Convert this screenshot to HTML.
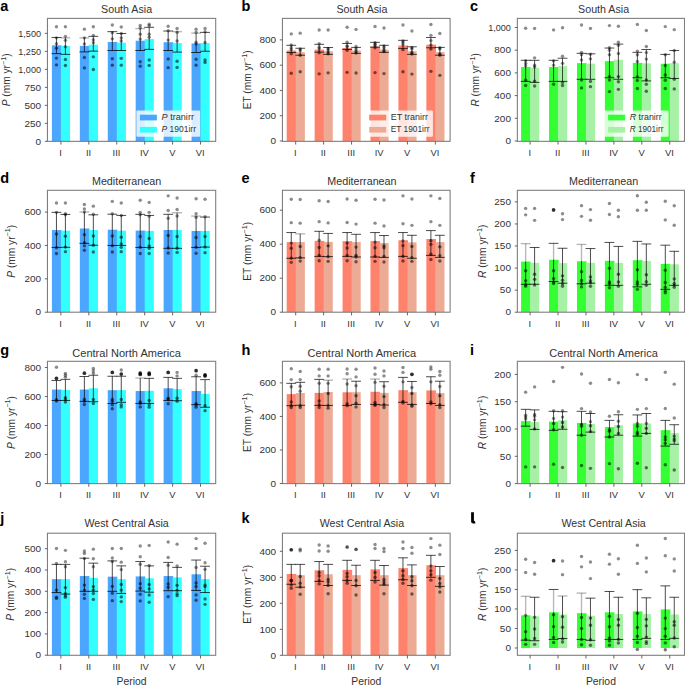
<!DOCTYPE html><html><head><meta charset="utf-8"><style>html,body{margin:0;padding:0;background:#fff;width:685px;height:685px;overflow:hidden}svg{display:block}text{font-family:"Liberation Sans",sans-serif}</style></head><body>
<svg width="685" height="685" viewBox="0 0 685 685">
<rect width="685" height="685" fill="#fff"/>
<rect x="51.9" y="45.3" width="9.6" height="96.05" fill="#4ba6ff"/>
<rect x="60.9" y="46.04" width="9.15" height="95.31" fill="#33ffff"/>
<rect x="79.83" y="45.92" width="9.6" height="95.43" fill="#4ba6ff"/>
<rect x="88.83" y="44.68" width="9.15" height="96.67" fill="#33ffff"/>
<rect x="107.76" y="41.95" width="9.6" height="99.4" fill="#4ba6ff"/>
<rect x="116.76" y="42.69" width="9.15" height="98.66" fill="#33ffff"/>
<rect x="135.69" y="40.71" width="9.6" height="100.64" fill="#4ba6ff"/>
<rect x="144.69" y="39.09" width="9.15" height="102.26" fill="#33ffff"/>
<rect x="163.62" y="42.2" width="9.6" height="99.15" fill="#4ba6ff"/>
<rect x="172.62" y="43.07" width="9.15" height="98.28" fill="#33ffff"/>
<rect x="191.55" y="43.44" width="9.6" height="97.91" fill="#4ba6ff"/>
<rect x="200.55" y="43.07" width="9.15" height="98.28" fill="#33ffff"/>
<path d="M56.45 37.48V53.61" stroke="#000" stroke-opacity="0.7" stroke-width="1" fill="none"/>
<path d="M51.55 37.48H61.35" stroke="#000" stroke-opacity="0.7" stroke-width="1" fill="none"/>
<path d="M51.55 53.61H61.35" stroke="#000" stroke-opacity="0.75" stroke-width="1" fill="none"/>
<circle cx="56.45" cy="26.69" r="1.7" fill="#000" fill-opacity="0.45"/>
<circle cx="56.45" cy="37.85" r="1.7" fill="#000" fill-opacity="0.45"/>
<circle cx="56.45" cy="43.69" r="1.7" fill="#000" fill-opacity="0.45"/>
<circle cx="56.45" cy="48.15" r="1.7" fill="#000" fill-opacity="0.55"/>
<circle cx="56.45" cy="58.08" r="1.7" fill="#000" fill-opacity="0.55"/>
<circle cx="56.45" cy="64.91" r="1.7" fill="#000" fill-opacity="0.55"/>
<path d="M65.4 37.85V54.36" stroke="#000" stroke-opacity="0.7" stroke-width="1" fill="none"/>
<path d="M60.5 37.85H70.3" stroke="#000" stroke-opacity="0.28" stroke-width="1.4" fill="none"/>
<path d="M60.5 54.36H70.3" stroke="#000" stroke-opacity="0.75" stroke-width="1" fill="none"/>
<circle cx="65.4" cy="26.69" r="1.7" fill="#000" fill-opacity="0.45"/>
<circle cx="65.4" cy="36.36" r="1.7" fill="#000" fill-opacity="0.45"/>
<circle cx="65.4" cy="40.34" r="1.7" fill="#000" fill-opacity="0.45"/>
<circle cx="65.4" cy="46.79" r="1.7" fill="#000" fill-opacity="0.45"/>
<circle cx="65.4" cy="59.57" r="1.7" fill="#000" fill-opacity="0.55"/>
<circle cx="65.4" cy="65.53" r="1.7" fill="#000" fill-opacity="0.55"/>
<path d="M84.38 37.85V51.88" stroke="#000" stroke-opacity="0.7" stroke-width="1" fill="none"/>
<path d="M79.48 37.85H89.28" stroke="#000" stroke-opacity="0.28" stroke-width="1.4" fill="none"/>
<path d="M79.48 51.88H89.28" stroke="#000" stroke-opacity="0.75" stroke-width="1" fill="none"/>
<circle cx="84.38" cy="29.17" r="1.7" fill="#000" fill-opacity="0.45"/>
<circle cx="84.38" cy="37.85" r="1.7" fill="#000" fill-opacity="0.45"/>
<circle cx="84.38" cy="44.06" r="1.7" fill="#000" fill-opacity="0.45"/>
<circle cx="84.38" cy="57.46" r="1.7" fill="#000" fill-opacity="0.55"/>
<circle cx="84.38" cy="67.88" r="1.7" fill="#000" fill-opacity="0.55"/>
<path d="M93.33 36.36V51.13" stroke="#000" stroke-opacity="0.7" stroke-width="1" fill="none"/>
<path d="M88.43 36.36H98.23" stroke="#000" stroke-opacity="0.7" stroke-width="1" fill="none"/>
<path d="M88.43 51.13H98.23" stroke="#000" stroke-opacity="0.75" stroke-width="1" fill="none"/>
<circle cx="93.33" cy="26.69" r="1.7" fill="#000" fill-opacity="0.45"/>
<circle cx="93.33" cy="35.37" r="1.7" fill="#000" fill-opacity="0.45"/>
<circle cx="93.33" cy="39.72" r="1.7" fill="#000" fill-opacity="0.45"/>
<circle cx="93.33" cy="42.82" r="1.7" fill="#000" fill-opacity="0.45"/>
<circle cx="93.33" cy="56.84" r="1.7" fill="#000" fill-opacity="0.55"/>
<circle cx="93.33" cy="69.5" r="1.7" fill="#000" fill-opacity="0.55"/>
<path d="M112.31 31.65V50.51" stroke="#000" stroke-opacity="0.7" stroke-width="1" fill="none"/>
<path d="M107.41 31.65H117.21" stroke="#000" stroke-opacity="0.7" stroke-width="1" fill="none"/>
<path d="M107.41 50.51H117.21" stroke="#000" stroke-opacity="0.75" stroke-width="1" fill="none"/>
<circle cx="112.31" cy="25.07" r="1.7" fill="#000" fill-opacity="0.45"/>
<circle cx="112.31" cy="32.64" r="1.7" fill="#000" fill-opacity="0.45"/>
<circle cx="112.31" cy="38.85" r="1.7" fill="#000" fill-opacity="0.45"/>
<circle cx="112.31" cy="58.7" r="1.7" fill="#000" fill-opacity="0.55"/>
<circle cx="112.31" cy="65.15" r="1.7" fill="#000" fill-opacity="0.55"/>
<path d="M121.26 33.51V50.51" stroke="#000" stroke-opacity="0.7" stroke-width="1" fill="none"/>
<path d="M116.36 33.51H126.16" stroke="#000" stroke-opacity="0.7" stroke-width="1" fill="none"/>
<path d="M116.36 50.51H126.16" stroke="#000" stroke-opacity="0.75" stroke-width="1" fill="none"/>
<circle cx="121.26" cy="26.93" r="1.7" fill="#000" fill-opacity="0.45"/>
<circle cx="121.26" cy="33.51" r="1.7" fill="#000" fill-opacity="0.45"/>
<circle cx="121.26" cy="37.85" r="1.7" fill="#000" fill-opacity="0.45"/>
<circle cx="121.26" cy="40.96" r="1.7" fill="#000" fill-opacity="0.45"/>
<circle cx="121.26" cy="58.33" r="1.7" fill="#000" fill-opacity="0.55"/>
<circle cx="121.26" cy="65.15" r="1.7" fill="#000" fill-opacity="0.55"/>
<path d="M140.24 28.55V50.51" stroke="#000" stroke-opacity="0.7" stroke-width="1" fill="none"/>
<path d="M135.34 28.55H145.14" stroke="#000" stroke-opacity="0.28" stroke-width="1.4" fill="none"/>
<path d="M135.34 50.51H145.14" stroke="#000" stroke-opacity="0.75" stroke-width="1" fill="none"/>
<circle cx="140.24" cy="25.45" r="1.7" fill="#000" fill-opacity="0.45"/>
<circle cx="140.24" cy="27.93" r="1.7" fill="#000" fill-opacity="0.45"/>
<circle cx="140.24" cy="34.13" r="1.7" fill="#000" fill-opacity="0.45"/>
<circle cx="140.24" cy="39.09" r="1.7" fill="#000" fill-opacity="0.45"/>
<circle cx="140.24" cy="61.68" r="1.7" fill="#000" fill-opacity="0.55"/>
<circle cx="140.24" cy="66.15" r="1.7" fill="#000" fill-opacity="0.55"/>
<path d="M149.19 27.31V49.39" stroke="#000" stroke-opacity="0.7" stroke-width="1" fill="none"/>
<path d="M144.29 27.31H154.09" stroke="#000" stroke-opacity="0.7" stroke-width="1" fill="none"/>
<path d="M144.29 49.39H154.09" stroke="#000" stroke-opacity="0.75" stroke-width="1" fill="none"/>
<circle cx="149.19" cy="24.2" r="1.7" fill="#000" fill-opacity="0.45"/>
<circle cx="149.19" cy="25.69" r="1.7" fill="#000" fill-opacity="0.45"/>
<circle cx="149.19" cy="34.13" r="1.7" fill="#000" fill-opacity="0.45"/>
<circle cx="149.19" cy="37.23" r="1.7" fill="#000" fill-opacity="0.45"/>
<circle cx="149.19" cy="59.94" r="1.7" fill="#000" fill-opacity="0.55"/>
<circle cx="149.19" cy="65.4" r="1.7" fill="#000" fill-opacity="0.55"/>
<path d="M168.17 31.03V50.51" stroke="#000" stroke-opacity="0.7" stroke-width="1" fill="none"/>
<path d="M163.27 31.03H173.07" stroke="#000" stroke-opacity="0.7" stroke-width="1" fill="none"/>
<path d="M163.27 50.51H173.07" stroke="#000" stroke-opacity="0.75" stroke-width="1" fill="none"/>
<circle cx="168.17" cy="26.31" r="1.7" fill="#000" fill-opacity="0.45"/>
<circle cx="168.17" cy="30.78" r="1.7" fill="#000" fill-opacity="0.45"/>
<circle cx="168.17" cy="40.09" r="1.7" fill="#000" fill-opacity="0.45"/>
<circle cx="168.17" cy="58.95" r="1.7" fill="#000" fill-opacity="0.55"/>
<circle cx="168.17" cy="67.64" r="1.7" fill="#000" fill-opacity="0.55"/>
<path d="M177.12 31.65V52.12" stroke="#000" stroke-opacity="0.7" stroke-width="1" fill="none"/>
<path d="M172.22 31.65H182.02" stroke="#000" stroke-opacity="0.28" stroke-width="1.4" fill="none"/>
<path d="M172.22 52.12H182.02" stroke="#000" stroke-opacity="0.75" stroke-width="1" fill="none"/>
<circle cx="177.12" cy="28.55" r="1.7" fill="#000" fill-opacity="0.45"/>
<circle cx="177.12" cy="32.27" r="1.7" fill="#000" fill-opacity="0.45"/>
<circle cx="177.12" cy="40.96" r="1.7" fill="#000" fill-opacity="0.45"/>
<circle cx="177.12" cy="61.18" r="1.7" fill="#000" fill-opacity="0.55"/>
<circle cx="177.12" cy="67.39" r="1.7" fill="#000" fill-opacity="0.55"/>
<path d="M196.1 33.14V52.5" stroke="#000" stroke-opacity="0.7" stroke-width="1" fill="none"/>
<path d="M191.2 33.14H201" stroke="#000" stroke-opacity="0.28" stroke-width="1.4" fill="none"/>
<path d="M191.2 52.5H201" stroke="#000" stroke-opacity="0.75" stroke-width="1" fill="none"/>
<circle cx="196.1" cy="29.17" r="1.7" fill="#000" fill-opacity="0.45"/>
<circle cx="196.1" cy="32.27" r="1.7" fill="#000" fill-opacity="0.45"/>
<circle cx="196.1" cy="42.2" r="1.7" fill="#000" fill-opacity="0.45"/>
<circle cx="196.1" cy="44.06" r="1.7" fill="#000" fill-opacity="0.45"/>
<circle cx="196.1" cy="59.2" r="1.7" fill="#000" fill-opacity="0.55"/>
<circle cx="196.1" cy="65.15" r="1.7" fill="#000" fill-opacity="0.55"/>
<path d="M205.05 32.39V51.26" stroke="#000" stroke-opacity="0.7" stroke-width="1" fill="none"/>
<path d="M200.15 32.39H209.95" stroke="#000" stroke-opacity="0.7" stroke-width="1" fill="none"/>
<path d="M200.15 51.26H209.95" stroke="#000" stroke-opacity="0.75" stroke-width="1" fill="none"/>
<circle cx="205.05" cy="28.55" r="1.7" fill="#000" fill-opacity="0.45"/>
<circle cx="205.05" cy="31.65" r="1.7" fill="#000" fill-opacity="0.45"/>
<circle cx="205.05" cy="42.45" r="1.7" fill="#000" fill-opacity="0.45"/>
<circle cx="205.05" cy="59.94" r="1.7" fill="#000" fill-opacity="0.55"/>
<circle cx="205.05" cy="62.42" r="1.7" fill="#000" fill-opacity="0.55"/>
<rect x="47.45" y="18.4" width="168.25" height="122.95" fill="none" stroke="#7f7f7f" stroke-width="1.1"/>
<path d="M44.85 141.35H47.45" stroke="#555" stroke-width="0.9"/>
<text x="41.05" y="144.55" font-size="9.0" text-anchor="end" fill="#333" textLength="5.55" lengthAdjust="spacingAndGlyphs">0</text>
<path d="M44.85 123.35H47.45" stroke="#555" stroke-width="0.9"/>
<text x="41.05" y="126.55" font-size="9.0" text-anchor="end" fill="#333" textLength="16.65" lengthAdjust="spacingAndGlyphs">250</text>
<path d="M44.85 105.35H47.45" stroke="#555" stroke-width="0.9"/>
<text x="41.05" y="108.55" font-size="9.0" text-anchor="end" fill="#333" textLength="16.65" lengthAdjust="spacingAndGlyphs">500</text>
<path d="M44.85 87.35H47.45" stroke="#555" stroke-width="0.9"/>
<text x="41.05" y="90.55" font-size="9.0" text-anchor="end" fill="#333" textLength="16.65" lengthAdjust="spacingAndGlyphs">750</text>
<path d="M44.85 69.35H47.45" stroke="#555" stroke-width="0.9"/>
<text x="41.05" y="72.55" font-size="9.0" text-anchor="end" fill="#333" textLength="22.8" lengthAdjust="spacingAndGlyphs">1,000</text>
<path d="M44.85 51.35H47.45" stroke="#555" stroke-width="0.9"/>
<text x="41.05" y="54.55" font-size="9.0" text-anchor="end" fill="#333" textLength="22.8" lengthAdjust="spacingAndGlyphs">1,250</text>
<path d="M44.85 33.35H47.45" stroke="#555" stroke-width="0.9"/>
<text x="41.05" y="36.55" font-size="9.0" text-anchor="end" fill="#333" textLength="22.8" lengthAdjust="spacingAndGlyphs">1,500</text>
<path d="M60.9 141.35V144.55" stroke="#555" stroke-width="0.9"/>
<text x="60.6" y="156.05" font-size="9.4" text-anchor="middle" fill="#333">I</text>
<path d="M88.83 141.35V144.55" stroke="#555" stroke-width="0.9"/>
<text x="88.53" y="156.05" font-size="9.4" text-anchor="middle" fill="#333">II</text>
<path d="M116.76 141.35V144.55" stroke="#555" stroke-width="0.9"/>
<text x="116.46" y="156.05" font-size="9.4" text-anchor="middle" fill="#333">III</text>
<path d="M144.69 141.35V144.55" stroke="#555" stroke-width="0.9"/>
<text x="144.39" y="156.05" font-size="9.4" text-anchor="middle" fill="#333">IV</text>
<path d="M172.62 141.35V144.55" stroke="#555" stroke-width="0.9"/>
<text x="172.32" y="156.05" font-size="9.4" text-anchor="middle" fill="#333">V</text>
<path d="M200.55 141.35V144.55" stroke="#555" stroke-width="0.9"/>
<text x="200.25" y="156.05" font-size="9.4" text-anchor="middle" fill="#333">VI</text>
<text x="126.6" y="12.8" font-size="10.6" text-anchor="middle" fill="#333" textLength="51" lengthAdjust="spacingAndGlyphs">South Asia</text>
<text x="0.2" y="11" font-size="14.5" font-weight="bold" fill="#000">a</text>
<text transform="translate(10.2 79.88) rotate(-90)" x="0" y="0" font-size="10.2" text-anchor="middle" fill="#333"><tspan font-style="italic">P</tspan> (mm yr<tspan font-size="7.2" dy="-4.3">−1</tspan><tspan dy="4.3">)</tspan></text>
<rect x="286.7" y="50.51" width="9.6" height="90.49" fill="#ff826c"/>
<rect x="295.7" y="52.12" width="9.15" height="88.88" fill="#edab95"/>
<rect x="314.63" y="49.64" width="9.6" height="91.36" fill="#ff826c"/>
<rect x="323.63" y="51.13" width="9.15" height="89.87" fill="#edab95"/>
<rect x="342.56" y="48.03" width="9.6" height="92.97" fill="#ff826c"/>
<rect x="351.56" y="50.51" width="9.15" height="90.49" fill="#edab95"/>
<rect x="370.49" y="46.54" width="9.6" height="94.46" fill="#ff826c"/>
<rect x="379.49" y="49.64" width="9.15" height="91.36" fill="#edab95"/>
<rect x="398.42" y="45.55" width="9.6" height="95.45" fill="#ff826c"/>
<rect x="407.42" y="51.26" width="9.15" height="89.74" fill="#edab95"/>
<rect x="426.35" y="44.68" width="9.6" height="96.32" fill="#ff826c"/>
<rect x="435.35" y="52.12" width="9.15" height="88.88" fill="#edab95"/>
<path d="M291.25 45.3V52.5" stroke="#000" stroke-opacity="0.7" stroke-width="1" fill="none"/>
<path d="M286.35 45.3H296.15" stroke="#000" stroke-opacity="0.7" stroke-width="1" fill="none"/>
<path d="M286.35 52.5H296.15" stroke="#000" stroke-opacity="0.75" stroke-width="1" fill="none"/>
<circle cx="291.25" cy="33.88" r="1.7" fill="#000" fill-opacity="0.45"/>
<circle cx="291.25" cy="45.05" r="1.7" fill="#000" fill-opacity="0.45"/>
<circle cx="291.25" cy="47.78" r="1.7" fill="#000" fill-opacity="0.45"/>
<circle cx="291.25" cy="49.64" r="1.7" fill="#000" fill-opacity="0.45"/>
<circle cx="291.25" cy="53.74" r="1.7" fill="#000" fill-opacity="0.55"/>
<circle cx="291.25" cy="73.22" r="1.7" fill="#000" fill-opacity="0.55"/>
<path d="M300.2 48.28V55.23" stroke="#000" stroke-opacity="0.7" stroke-width="1" fill="none"/>
<path d="M295.3 48.28H305.1" stroke="#000" stroke-opacity="0.7" stroke-width="1" fill="none"/>
<path d="M295.3 55.23H305.1" stroke="#000" stroke-opacity="0.75" stroke-width="1" fill="none"/>
<circle cx="300.2" cy="33.14" r="1.7" fill="#000" fill-opacity="0.45"/>
<circle cx="300.2" cy="49.02" r="1.7" fill="#000" fill-opacity="0.45"/>
<circle cx="300.2" cy="50.51" r="1.7" fill="#000" fill-opacity="0.45"/>
<circle cx="300.2" cy="55.23" r="1.7" fill="#000" fill-opacity="0.55"/>
<circle cx="300.2" cy="71.73" r="1.7" fill="#000" fill-opacity="0.55"/>
<path d="M319.18 44.31V52.12" stroke="#000" stroke-opacity="0.7" stroke-width="1" fill="none"/>
<path d="M314.28 44.31H324.08" stroke="#000" stroke-opacity="0.7" stroke-width="1" fill="none"/>
<path d="M314.28 52.12H324.08" stroke="#000" stroke-opacity="0.75" stroke-width="1" fill="none"/>
<circle cx="319.18" cy="30.04" r="1.7" fill="#000" fill-opacity="0.45"/>
<circle cx="319.18" cy="43.81" r="1.7" fill="#000" fill-opacity="0.45"/>
<circle cx="319.18" cy="47.16" r="1.7" fill="#000" fill-opacity="0.45"/>
<circle cx="319.18" cy="49.02" r="1.7" fill="#000" fill-opacity="0.45"/>
<circle cx="319.18" cy="52.74" r="1.7" fill="#000" fill-opacity="0.55"/>
<circle cx="319.18" cy="73.84" r="1.7" fill="#000" fill-opacity="0.55"/>
<path d="M328.13 47.53V54.36" stroke="#000" stroke-opacity="0.7" stroke-width="1" fill="none"/>
<path d="M323.23 47.53H333.03" stroke="#000" stroke-opacity="0.7" stroke-width="1" fill="none"/>
<path d="M323.23 54.36H333.03" stroke="#000" stroke-opacity="0.75" stroke-width="1" fill="none"/>
<circle cx="328.13" cy="30.04" r="1.7" fill="#000" fill-opacity="0.45"/>
<circle cx="328.13" cy="48.4" r="1.7" fill="#000" fill-opacity="0.45"/>
<circle cx="328.13" cy="50.01" r="1.7" fill="#000" fill-opacity="0.45"/>
<circle cx="328.13" cy="52.12" r="1.7" fill="#000" fill-opacity="0.45"/>
<circle cx="328.13" cy="53.74" r="1.7" fill="#000" fill-opacity="0.55"/>
<circle cx="328.13" cy="72.85" r="1.7" fill="#000" fill-opacity="0.55"/>
<path d="M347.11 43.44V49.39" stroke="#000" stroke-opacity="0.7" stroke-width="1" fill="none"/>
<path d="M342.21 43.44H352.01" stroke="#000" stroke-opacity="0.7" stroke-width="1" fill="none"/>
<path d="M342.21 49.39H352.01" stroke="#000" stroke-opacity="0.75" stroke-width="1" fill="none"/>
<circle cx="347.11" cy="27.31" r="1.7" fill="#000" fill-opacity="0.45"/>
<circle cx="347.11" cy="42.2" r="1.7" fill="#000" fill-opacity="0.45"/>
<circle cx="347.11" cy="45.92" r="1.7" fill="#000" fill-opacity="0.45"/>
<circle cx="347.11" cy="46.79" r="1.7" fill="#000" fill-opacity="0.45"/>
<circle cx="347.11" cy="50.26" r="1.7" fill="#000" fill-opacity="0.55"/>
<circle cx="347.11" cy="72.35" r="1.7" fill="#000" fill-opacity="0.55"/>
<path d="M356.06 47.41V53.36" stroke="#000" stroke-opacity="0.7" stroke-width="1" fill="none"/>
<path d="M351.16 47.41H360.96" stroke="#000" stroke-opacity="0.7" stroke-width="1" fill="none"/>
<path d="M351.16 53.36H360.96" stroke="#000" stroke-opacity="0.75" stroke-width="1" fill="none"/>
<circle cx="356.06" cy="29.42" r="1.7" fill="#000" fill-opacity="0.45"/>
<circle cx="356.06" cy="46.54" r="1.7" fill="#000" fill-opacity="0.45"/>
<circle cx="356.06" cy="49.02" r="1.7" fill="#000" fill-opacity="0.45"/>
<circle cx="356.06" cy="51.26" r="1.7" fill="#000" fill-opacity="0.45"/>
<circle cx="356.06" cy="52.99" r="1.7" fill="#000" fill-opacity="0.55"/>
<circle cx="356.06" cy="72.97" r="1.7" fill="#000" fill-opacity="0.55"/>
<path d="M375.04 42.32V47.16" stroke="#000" stroke-opacity="0.7" stroke-width="1" fill="none"/>
<path d="M370.14 42.32H379.94" stroke="#000" stroke-opacity="0.7" stroke-width="1" fill="none"/>
<path d="M370.14 47.16H379.94" stroke="#000" stroke-opacity="0.75" stroke-width="1" fill="none"/>
<circle cx="375.04" cy="26.44" r="1.7" fill="#000" fill-opacity="0.45"/>
<circle cx="375.04" cy="42.82" r="1.7" fill="#000" fill-opacity="0.45"/>
<circle cx="375.04" cy="44.31" r="1.7" fill="#000" fill-opacity="0.45"/>
<circle cx="375.04" cy="45.55" r="1.7" fill="#000" fill-opacity="0.45"/>
<circle cx="375.04" cy="47.78" r="1.7" fill="#000" fill-opacity="0.55"/>
<circle cx="375.04" cy="72.6" r="1.7" fill="#000" fill-opacity="0.55"/>
<path d="M383.99 45.3V52.37" stroke="#000" stroke-opacity="0.7" stroke-width="1" fill="none"/>
<path d="M379.09 45.3H388.89" stroke="#000" stroke-opacity="0.7" stroke-width="1" fill="none"/>
<path d="M379.09 52.37H388.89" stroke="#000" stroke-opacity="0.75" stroke-width="1" fill="none"/>
<circle cx="383.99" cy="27.93" r="1.7" fill="#000" fill-opacity="0.45"/>
<circle cx="383.99" cy="45.92" r="1.7" fill="#000" fill-opacity="0.45"/>
<circle cx="383.99" cy="47.78" r="1.7" fill="#000" fill-opacity="0.45"/>
<circle cx="383.99" cy="50.01" r="1.7" fill="#000" fill-opacity="0.45"/>
<circle cx="383.99" cy="51.5" r="1.7" fill="#000" fill-opacity="0.55"/>
<circle cx="383.99" cy="73.59" r="1.7" fill="#000" fill-opacity="0.55"/>
<path d="M402.97 40.34V48.4" stroke="#000" stroke-opacity="0.7" stroke-width="1" fill="none"/>
<path d="M398.07 40.34H407.87" stroke="#000" stroke-opacity="0.7" stroke-width="1" fill="none"/>
<path d="M398.07 48.4H407.87" stroke="#000" stroke-opacity="0.75" stroke-width="1" fill="none"/>
<circle cx="402.97" cy="25.07" r="1.7" fill="#000" fill-opacity="0.45"/>
<circle cx="402.97" cy="40.96" r="1.7" fill="#000" fill-opacity="0.45"/>
<circle cx="402.97" cy="42.82" r="1.7" fill="#000" fill-opacity="0.45"/>
<circle cx="402.97" cy="45.05" r="1.7" fill="#000" fill-opacity="0.45"/>
<circle cx="402.97" cy="49.64" r="1.7" fill="#000" fill-opacity="0.55"/>
<circle cx="402.97" cy="71.73" r="1.7" fill="#000" fill-opacity="0.55"/>
<path d="M411.92 46.79V54.36" stroke="#000" stroke-opacity="0.7" stroke-width="1" fill="none"/>
<path d="M407.02 46.79H416.82" stroke="#000" stroke-opacity="0.7" stroke-width="1" fill="none"/>
<path d="M407.02 54.36H416.82" stroke="#000" stroke-opacity="0.75" stroke-width="1" fill="none"/>
<circle cx="411.92" cy="31.03" r="1.7" fill="#000" fill-opacity="0.45"/>
<circle cx="411.92" cy="47.53" r="1.7" fill="#000" fill-opacity="0.45"/>
<circle cx="411.92" cy="49.02" r="1.7" fill="#000" fill-opacity="0.45"/>
<circle cx="411.92" cy="52.5" r="1.7" fill="#000" fill-opacity="0.55"/>
<circle cx="411.92" cy="53.99" r="1.7" fill="#000" fill-opacity="0.55"/>
<circle cx="411.92" cy="74.09" r="1.7" fill="#000" fill-opacity="0.55"/>
<path d="M430.9 37.48V47.78" stroke="#000" stroke-opacity="0.7" stroke-width="1" fill="none"/>
<path d="M426 37.48H435.8" stroke="#000" stroke-opacity="0.7" stroke-width="1" fill="none"/>
<path d="M426 47.78H435.8" stroke="#000" stroke-opacity="0.75" stroke-width="1" fill="none"/>
<circle cx="430.9" cy="24.45" r="1.7" fill="#000" fill-opacity="0.45"/>
<circle cx="430.9" cy="35.37" r="1.7" fill="#000" fill-opacity="0.45"/>
<circle cx="430.9" cy="40.58" r="1.7" fill="#000" fill-opacity="0.45"/>
<circle cx="430.9" cy="45.05" r="1.7" fill="#000" fill-opacity="0.45"/>
<circle cx="430.9" cy="49.02" r="1.7" fill="#000" fill-opacity="0.55"/>
<circle cx="430.9" cy="71.36" r="1.7" fill="#000" fill-opacity="0.55"/>
<path d="M439.85 47.41V55.23" stroke="#000" stroke-opacity="0.7" stroke-width="1" fill="none"/>
<path d="M434.95 47.41H444.75" stroke="#000" stroke-opacity="0.7" stroke-width="1" fill="none"/>
<path d="M434.95 55.23H444.75" stroke="#000" stroke-opacity="0.75" stroke-width="1" fill="none"/>
<circle cx="439.85" cy="33.51" r="1.7" fill="#000" fill-opacity="0.45"/>
<circle cx="439.85" cy="47.78" r="1.7" fill="#000" fill-opacity="0.45"/>
<circle cx="439.85" cy="49.02" r="1.7" fill="#000" fill-opacity="0.45"/>
<circle cx="439.85" cy="53.99" r="1.7" fill="#000" fill-opacity="0.55"/>
<circle cx="439.85" cy="55.23" r="1.7" fill="#000" fill-opacity="0.55"/>
<circle cx="439.85" cy="75.33" r="1.7" fill="#000" fill-opacity="0.55"/>
<rect x="282.45" y="18.4" width="167.65" height="122.95" fill="none" stroke="#7f7f7f" stroke-width="1.1"/>
<path d="M279.85 141H282.45" stroke="#555" stroke-width="0.9"/>
<text x="276.05" y="144.2" font-size="9.0" text-anchor="end" fill="#333" textLength="5.55" lengthAdjust="spacingAndGlyphs">0</text>
<path d="M279.85 115.72H282.45" stroke="#555" stroke-width="0.9"/>
<text x="276.05" y="118.92" font-size="9.0" text-anchor="end" fill="#333" textLength="16.65" lengthAdjust="spacingAndGlyphs">200</text>
<path d="M279.85 90.44H282.45" stroke="#555" stroke-width="0.9"/>
<text x="276.05" y="93.64" font-size="9.0" text-anchor="end" fill="#333" textLength="16.65" lengthAdjust="spacingAndGlyphs">400</text>
<path d="M279.85 65.16H282.45" stroke="#555" stroke-width="0.9"/>
<text x="276.05" y="68.36" font-size="9.0" text-anchor="end" fill="#333" textLength="16.65" lengthAdjust="spacingAndGlyphs">600</text>
<path d="M279.85 39.88H282.45" stroke="#555" stroke-width="0.9"/>
<text x="276.05" y="43.08" font-size="9.0" text-anchor="end" fill="#333" textLength="16.65" lengthAdjust="spacingAndGlyphs">800</text>
<path d="M295.7 141.35V144.55" stroke="#555" stroke-width="0.9"/>
<text x="295.4" y="156.05" font-size="9.4" text-anchor="middle" fill="#333">I</text>
<path d="M323.63 141.35V144.55" stroke="#555" stroke-width="0.9"/>
<text x="323.33" y="156.05" font-size="9.4" text-anchor="middle" fill="#333">II</text>
<path d="M351.56 141.35V144.55" stroke="#555" stroke-width="0.9"/>
<text x="351.26" y="156.05" font-size="9.4" text-anchor="middle" fill="#333">III</text>
<path d="M379.49 141.35V144.55" stroke="#555" stroke-width="0.9"/>
<text x="379.19" y="156.05" font-size="9.4" text-anchor="middle" fill="#333">IV</text>
<path d="M407.42 141.35V144.55" stroke="#555" stroke-width="0.9"/>
<text x="407.12" y="156.05" font-size="9.4" text-anchor="middle" fill="#333">V</text>
<path d="M435.35 141.35V144.55" stroke="#555" stroke-width="0.9"/>
<text x="435.05" y="156.05" font-size="9.4" text-anchor="middle" fill="#333">VI</text>
<text x="361.9" y="12.8" font-size="10.6" text-anchor="middle" fill="#333" textLength="51" lengthAdjust="spacingAndGlyphs">South Asia</text>
<text x="241.4" y="11" font-size="14.5" font-weight="bold" fill="#000">b</text>
<text transform="translate(250.8 79.88) rotate(-90)" x="0" y="0" font-size="10.2" text-anchor="middle" fill="#333">ET (mm yr<tspan font-size="7.2" dy="-4.3">−1</tspan><tspan dy="4.3">)</tspan></text>
<rect x="521.1" y="67.05" width="9.6" height="73.95" fill="#33ff33"/>
<rect x="530.1" y="67.66" width="9.15" height="73.34" fill="#a6f1a6"/>
<rect x="549.03" y="67.05" width="9.6" height="73.95" fill="#33ff33"/>
<rect x="558.03" y="66.19" width="9.15" height="74.81" fill="#a6f1a6"/>
<rect x="576.96" y="63.13" width="9.6" height="77.87" fill="#33ff33"/>
<rect x="585.96" y="63.62" width="9.15" height="77.38" fill="#a6f1a6"/>
<rect x="604.89" y="61.16" width="9.6" height="79.84" fill="#33ff33"/>
<rect x="613.89" y="59.69" width="9.15" height="81.31" fill="#a6f1a6"/>
<rect x="632.82" y="62.88" width="9.6" height="78.12" fill="#33ff33"/>
<rect x="641.82" y="63.37" width="9.15" height="77.63" fill="#a6f1a6"/>
<rect x="660.75" y="63.74" width="9.6" height="77.26" fill="#33ff33"/>
<rect x="669.75" y="63.13" width="9.15" height="77.87" fill="#a6f1a6"/>
<path d="M525.65 60.31V81.4" stroke="#000" stroke-opacity="0.7" stroke-width="1" fill="none"/>
<path d="M520.75 60.31H530.55" stroke="#000" stroke-opacity="0.7" stroke-width="1" fill="none"/>
<path d="M520.75 81.4H530.55" stroke="#000" stroke-opacity="0.75" stroke-width="1" fill="none"/>
<circle cx="525.65" cy="28.18" r="1.7" fill="#000" fill-opacity="0.45"/>
<circle cx="525.65" cy="60.67" r="1.7" fill="#000" fill-opacity="0.45"/>
<circle cx="525.65" cy="63.37" r="1.7" fill="#000" fill-opacity="0.45"/>
<circle cx="525.65" cy="65.82" r="1.7" fill="#000" fill-opacity="0.45"/>
<circle cx="525.65" cy="80.29" r="1.7" fill="#000" fill-opacity="0.55"/>
<circle cx="525.65" cy="85.45" r="1.7" fill="#000" fill-opacity="0.55"/>
<path d="M534.6 60.31V82.38" stroke="#000" stroke-opacity="0.7" stroke-width="1" fill="none"/>
<path d="M529.7 60.31H539.5" stroke="#000" stroke-opacity="0.7" stroke-width="1" fill="none"/>
<path d="M529.7 82.38H539.5" stroke="#000" stroke-opacity="0.75" stroke-width="1" fill="none"/>
<circle cx="534.6" cy="28.42" r="1.7" fill="#000" fill-opacity="0.45"/>
<circle cx="534.6" cy="57.85" r="1.7" fill="#000" fill-opacity="0.45"/>
<circle cx="534.6" cy="65.21" r="1.7" fill="#000" fill-opacity="0.45"/>
<circle cx="534.6" cy="67.05" r="1.7" fill="#000" fill-opacity="0.45"/>
<circle cx="534.6" cy="81.15" r="1.7" fill="#000" fill-opacity="0.55"/>
<circle cx="534.6" cy="86.06" r="1.7" fill="#000" fill-opacity="0.55"/>
<path d="M553.58 60.31V81.4" stroke="#000" stroke-opacity="0.7" stroke-width="1" fill="none"/>
<path d="M548.68 60.31H558.48" stroke="#000" stroke-opacity="0.7" stroke-width="1" fill="none"/>
<path d="M548.68 81.4H558.48" stroke="#000" stroke-opacity="0.75" stroke-width="1" fill="none"/>
<circle cx="553.58" cy="29.89" r="1.7" fill="#000" fill-opacity="0.45"/>
<circle cx="553.58" cy="60.92" r="1.7" fill="#000" fill-opacity="0.45"/>
<circle cx="553.58" cy="65.21" r="1.7" fill="#000" fill-opacity="0.45"/>
<circle cx="553.58" cy="84.22" r="1.7" fill="#000" fill-opacity="0.55"/>
<path d="M562.53 58.22V81.4" stroke="#000" stroke-opacity="0.7" stroke-width="1" fill="none"/>
<path d="M557.63 58.22H567.43" stroke="#000" stroke-opacity="0.7" stroke-width="1" fill="none"/>
<path d="M557.63 81.4H567.43" stroke="#000" stroke-opacity="0.75" stroke-width="1" fill="none"/>
<circle cx="562.53" cy="27.81" r="1.7" fill="#000" fill-opacity="0.45"/>
<circle cx="562.53" cy="56.26" r="1.7" fill="#000" fill-opacity="0.45"/>
<circle cx="562.53" cy="63.37" r="1.7" fill="#000" fill-opacity="0.45"/>
<circle cx="562.53" cy="82.38" r="1.7" fill="#000" fill-opacity="0.55"/>
<circle cx="562.53" cy="85.45" r="1.7" fill="#000" fill-opacity="0.55"/>
<path d="M581.51 53.32V79.31" stroke="#000" stroke-opacity="0.7" stroke-width="1" fill="none"/>
<path d="M576.61 53.32H586.41" stroke="#000" stroke-opacity="0.7" stroke-width="1" fill="none"/>
<path d="M576.61 79.31H586.41" stroke="#000" stroke-opacity="0.75" stroke-width="1" fill="none"/>
<circle cx="581.51" cy="24.99" r="1.7" fill="#000" fill-opacity="0.45"/>
<circle cx="581.51" cy="52.34" r="1.7" fill="#000" fill-opacity="0.45"/>
<circle cx="581.51" cy="54.79" r="1.7" fill="#000" fill-opacity="0.45"/>
<circle cx="581.51" cy="60.06" r="1.7" fill="#000" fill-opacity="0.45"/>
<circle cx="581.51" cy="79.93" r="1.7" fill="#000" fill-opacity="0.55"/>
<circle cx="581.51" cy="87.9" r="1.7" fill="#000" fill-opacity="0.55"/>
<path d="M590.46 53.81V79.31" stroke="#000" stroke-opacity="0.7" stroke-width="1" fill="none"/>
<path d="M585.56 53.81H595.36" stroke="#000" stroke-opacity="0.7" stroke-width="1" fill="none"/>
<path d="M585.56 79.31H595.36" stroke="#000" stroke-opacity="0.75" stroke-width="1" fill="none"/>
<circle cx="590.46" cy="28.42" r="1.7" fill="#000" fill-opacity="0.45"/>
<circle cx="590.46" cy="54.18" r="1.7" fill="#000" fill-opacity="0.45"/>
<circle cx="590.46" cy="58.84" r="1.7" fill="#000" fill-opacity="0.45"/>
<circle cx="590.46" cy="81.4" r="1.7" fill="#000" fill-opacity="0.55"/>
<circle cx="590.46" cy="86.67" r="1.7" fill="#000" fill-opacity="0.55"/>
<path d="M609.44 48.04V77.72" stroke="#000" stroke-opacity="0.7" stroke-width="1" fill="none"/>
<path d="M604.54 48.04H614.34" stroke="#000" stroke-opacity="0.7" stroke-width="1" fill="none"/>
<path d="M604.54 77.72H614.34" stroke="#000" stroke-opacity="0.75" stroke-width="1" fill="none"/>
<circle cx="609.44" cy="25.6" r="1.7" fill="#000" fill-opacity="0.45"/>
<circle cx="609.44" cy="47.8" r="1.7" fill="#000" fill-opacity="0.45"/>
<circle cx="609.44" cy="50.13" r="1.7" fill="#000" fill-opacity="0.45"/>
<circle cx="609.44" cy="54.79" r="1.7" fill="#000" fill-opacity="0.45"/>
<circle cx="609.44" cy="76.62" r="1.7" fill="#000" fill-opacity="0.55"/>
<circle cx="609.44" cy="79.93" r="1.7" fill="#000" fill-opacity="0.55"/>
<circle cx="609.44" cy="91.58" r="1.7" fill="#000" fill-opacity="0.55"/>
<path d="M618.39 44.12V79.31" stroke="#000" stroke-opacity="0.7" stroke-width="1" fill="none"/>
<path d="M613.49 44.12H623.29" stroke="#000" stroke-opacity="0.7" stroke-width="1" fill="none"/>
<path d="M613.49 79.31H623.29" stroke="#000" stroke-opacity="0.75" stroke-width="1" fill="none"/>
<circle cx="618.39" cy="26.22" r="1.7" fill="#000" fill-opacity="0.45"/>
<circle cx="618.39" cy="42.28" r="1.7" fill="#000" fill-opacity="0.45"/>
<circle cx="618.39" cy="45.22" r="1.7" fill="#000" fill-opacity="0.45"/>
<circle cx="618.39" cy="53.56" r="1.7" fill="#000" fill-opacity="0.45"/>
<circle cx="618.39" cy="76.62" r="1.7" fill="#000" fill-opacity="0.55"/>
<circle cx="618.39" cy="81.77" r="1.7" fill="#000" fill-opacity="0.55"/>
<circle cx="618.39" cy="89.37" r="1.7" fill="#000" fill-opacity="0.55"/>
<path d="M637.37 52.34V77.72" stroke="#000" stroke-opacity="0.7" stroke-width="1" fill="none"/>
<path d="M632.47 52.34H642.27" stroke="#000" stroke-opacity="0.7" stroke-width="1" fill="none"/>
<path d="M632.47 77.72H642.27" stroke="#000" stroke-opacity="0.75" stroke-width="1" fill="none"/>
<circle cx="637.37" cy="24.38" r="1.7" fill="#000" fill-opacity="0.45"/>
<circle cx="637.37" cy="51.11" r="1.7" fill="#000" fill-opacity="0.45"/>
<circle cx="637.37" cy="54.79" r="1.7" fill="#000" fill-opacity="0.45"/>
<circle cx="637.37" cy="61.53" r="1.7" fill="#000" fill-opacity="0.45"/>
<circle cx="637.37" cy="76.86" r="1.7" fill="#000" fill-opacity="0.55"/>
<circle cx="637.37" cy="80.54" r="1.7" fill="#000" fill-opacity="0.55"/>
<circle cx="637.37" cy="88.51" r="1.7" fill="#000" fill-opacity="0.55"/>
<path d="M646.32 49.52V80.91" stroke="#000" stroke-opacity="0.7" stroke-width="1" fill="none"/>
<path d="M641.42 49.52H651.22" stroke="#000" stroke-opacity="0.7" stroke-width="1" fill="none"/>
<path d="M641.42 80.91H651.22" stroke="#000" stroke-opacity="0.75" stroke-width="1" fill="none"/>
<circle cx="646.32" cy="30.51" r="1.7" fill="#000" fill-opacity="0.45"/>
<circle cx="646.32" cy="46.45" r="1.7" fill="#000" fill-opacity="0.45"/>
<circle cx="646.32" cy="52.58" r="1.7" fill="#000" fill-opacity="0.45"/>
<circle cx="646.32" cy="59.08" r="1.7" fill="#000" fill-opacity="0.45"/>
<circle cx="646.32" cy="79.93" r="1.7" fill="#000" fill-opacity="0.55"/>
<circle cx="646.32" cy="84.22" r="1.7" fill="#000" fill-opacity="0.55"/>
<circle cx="646.32" cy="91.21" r="1.7" fill="#000" fill-opacity="0.55"/>
<path d="M665.3 54.42V77.72" stroke="#000" stroke-opacity="0.7" stroke-width="1" fill="none"/>
<path d="M660.4 54.42H670.2" stroke="#000" stroke-opacity="0.7" stroke-width="1" fill="none"/>
<path d="M660.4 77.72H670.2" stroke="#000" stroke-opacity="0.75" stroke-width="1" fill="none"/>
<circle cx="665.3" cy="26.58" r="1.7" fill="#000" fill-opacity="0.45"/>
<circle cx="665.3" cy="54.79" r="1.7" fill="#000" fill-opacity="0.45"/>
<circle cx="665.3" cy="65.46" r="1.7" fill="#000" fill-opacity="0.55"/>
<circle cx="665.3" cy="75.02" r="1.7" fill="#000" fill-opacity="0.55"/>
<circle cx="665.3" cy="80.29" r="1.7" fill="#000" fill-opacity="0.55"/>
<circle cx="665.3" cy="88.51" r="1.7" fill="#000" fill-opacity="0.55"/>
<path d="M674.25 50.5V78.46" stroke="#000" stroke-opacity="0.7" stroke-width="1" fill="none"/>
<path d="M669.35 50.5H679.15" stroke="#000" stroke-opacity="0.7" stroke-width="1" fill="none"/>
<path d="M669.35 78.46H679.15" stroke="#000" stroke-opacity="0.75" stroke-width="1" fill="none"/>
<circle cx="674.25" cy="29.65" r="1.7" fill="#000" fill-opacity="0.45"/>
<circle cx="674.25" cy="50.5" r="1.7" fill="#000" fill-opacity="0.45"/>
<circle cx="674.25" cy="62.15" r="1.7" fill="#000" fill-opacity="0.45"/>
<circle cx="674.25" cy="79.31" r="1.7" fill="#000" fill-opacity="0.55"/>
<circle cx="674.25" cy="88.88" r="1.7" fill="#000" fill-opacity="0.55"/>
<rect x="517.35" y="18.4" width="167.15" height="122.95" fill="none" stroke="#7f7f7f" stroke-width="1.1"/>
<path d="M514.75 141H517.35" stroke="#555" stroke-width="0.9"/>
<text x="510.95" y="144.2" font-size="9.0" text-anchor="end" fill="#333" textLength="5.55" lengthAdjust="spacingAndGlyphs">0</text>
<path d="M514.75 118.3H517.35" stroke="#555" stroke-width="0.9"/>
<text x="510.95" y="121.5" font-size="9.0" text-anchor="end" fill="#333" textLength="16.65" lengthAdjust="spacingAndGlyphs">200</text>
<path d="M514.75 95.6H517.35" stroke="#555" stroke-width="0.9"/>
<text x="510.95" y="98.8" font-size="9.0" text-anchor="end" fill="#333" textLength="16.65" lengthAdjust="spacingAndGlyphs">400</text>
<path d="M514.75 72.9H517.35" stroke="#555" stroke-width="0.9"/>
<text x="510.95" y="76.1" font-size="9.0" text-anchor="end" fill="#333" textLength="16.65" lengthAdjust="spacingAndGlyphs">600</text>
<path d="M514.75 50.2H517.35" stroke="#555" stroke-width="0.9"/>
<text x="510.95" y="53.4" font-size="9.0" text-anchor="end" fill="#333" textLength="16.65" lengthAdjust="spacingAndGlyphs">800</text>
<path d="M514.75 27.5H517.35" stroke="#555" stroke-width="0.9"/>
<text x="510.95" y="30.7" font-size="9.0" text-anchor="end" fill="#333" textLength="22.8" lengthAdjust="spacingAndGlyphs">1,000</text>
<path d="M530.1 141.35V144.55" stroke="#555" stroke-width="0.9"/>
<text x="529.8" y="156.05" font-size="9.4" text-anchor="middle" fill="#333">I</text>
<path d="M558.03 141.35V144.55" stroke="#555" stroke-width="0.9"/>
<text x="557.73" y="156.05" font-size="9.4" text-anchor="middle" fill="#333">II</text>
<path d="M585.96 141.35V144.55" stroke="#555" stroke-width="0.9"/>
<text x="585.66" y="156.05" font-size="9.4" text-anchor="middle" fill="#333">III</text>
<path d="M613.89 141.35V144.55" stroke="#555" stroke-width="0.9"/>
<text x="613.59" y="156.05" font-size="9.4" text-anchor="middle" fill="#333">IV</text>
<path d="M641.82 141.35V144.55" stroke="#555" stroke-width="0.9"/>
<text x="641.52" y="156.05" font-size="9.4" text-anchor="middle" fill="#333">V</text>
<path d="M669.75 141.35V144.55" stroke="#555" stroke-width="0.9"/>
<text x="669.45" y="156.05" font-size="9.4" text-anchor="middle" fill="#333">VI</text>
<text x="603.6" y="12.8" font-size="10.6" text-anchor="middle" fill="#333" textLength="51" lengthAdjust="spacingAndGlyphs">South Asia</text>
<text x="469.9" y="11" font-size="14.5" font-weight="bold" fill="#000">c</text>
<text transform="translate(478.8 79.88) rotate(-90)" x="0" y="0" font-size="10.2" text-anchor="middle" fill="#333"><tspan font-style="italic">R</tspan> (mm yr<tspan font-size="7.2" dy="-4.3">−1</tspan><tspan dy="4.3">)</tspan></text>
<rect x="51.9" y="230.08" width="9.6" height="82.12" fill="#4ba6ff"/>
<rect x="60.9" y="230.7" width="9.15" height="81.5" fill="#33ffff"/>
<rect x="79.83" y="228.47" width="9.6" height="83.73" fill="#4ba6ff"/>
<rect x="88.83" y="230.08" width="9.15" height="82.12" fill="#33ffff"/>
<rect x="107.76" y="229.71" width="9.6" height="82.49" fill="#4ba6ff"/>
<rect x="116.76" y="230.7" width="9.15" height="81.5" fill="#33ffff"/>
<rect x="135.69" y="230.58" width="9.6" height="81.62" fill="#4ba6ff"/>
<rect x="144.69" y="230.95" width="9.15" height="81.25" fill="#33ffff"/>
<rect x="163.62" y="229.96" width="9.6" height="82.24" fill="#4ba6ff"/>
<rect x="172.62" y="230.08" width="9.15" height="82.12" fill="#33ffff"/>
<rect x="191.55" y="230.95" width="9.6" height="81.25" fill="#4ba6ff"/>
<rect x="200.55" y="230.95" width="9.15" height="81.25" fill="#33ffff"/>
<path d="M56.45 212.34V247.45" stroke="#000" stroke-opacity="0.7" stroke-width="1" fill="none"/>
<path d="M51.55 212.34H61.35" stroke="#000" stroke-opacity="0.7" stroke-width="1" fill="none"/>
<path d="M51.55 247.45H61.35" stroke="#000" stroke-opacity="0.75" stroke-width="1" fill="none"/>
<circle cx="56.45" cy="203.03" r="1.7" fill="#000" fill-opacity="0.45"/>
<circle cx="56.45" cy="212.34" r="1.7" fill="#000" fill-opacity="0.45"/>
<circle cx="56.45" cy="234.05" r="1.7" fill="#000" fill-opacity="0.55"/>
<circle cx="56.45" cy="247.7" r="1.7" fill="#000" fill-opacity="0.55"/>
<circle cx="56.45" cy="253.53" r="1.7" fill="#000" fill-opacity="0.55"/>
<path d="M65.4 214.45V247.33" stroke="#000" stroke-opacity="0.7" stroke-width="1" fill="none"/>
<path d="M60.5 214.45H70.3" stroke="#000" stroke-opacity="0.7" stroke-width="1" fill="none"/>
<path d="M60.5 247.33H70.3" stroke="#000" stroke-opacity="0.75" stroke-width="1" fill="none"/>
<circle cx="65.4" cy="203.03" r="1.7" fill="#000" fill-opacity="0.45"/>
<circle cx="65.4" cy="213.58" r="1.7" fill="#000" fill-opacity="0.45"/>
<circle cx="65.4" cy="214.82" r="1.7" fill="#000" fill-opacity="0.45"/>
<circle cx="65.4" cy="236.16" r="1.7" fill="#000" fill-opacity="0.55"/>
<circle cx="65.4" cy="247.08" r="1.7" fill="#000" fill-opacity="0.55"/>
<circle cx="65.4" cy="251.67" r="1.7" fill="#000" fill-opacity="0.55"/>
<path d="M84.38 211.96V243.36" stroke="#000" stroke-opacity="0.7" stroke-width="1" fill="none"/>
<path d="M79.48 211.96H89.28" stroke="#000" stroke-opacity="0.28" stroke-width="1.4" fill="none"/>
<path d="M79.48 243.36H89.28" stroke="#000" stroke-opacity="0.75" stroke-width="1" fill="none"/>
<circle cx="84.38" cy="204.52" r="1.7" fill="#000" fill-opacity="0.45"/>
<circle cx="84.38" cy="208.99" r="1.7" fill="#000" fill-opacity="0.45"/>
<circle cx="84.38" cy="212.09" r="1.7" fill="#000" fill-opacity="0.45"/>
<circle cx="84.38" cy="234.67" r="1.7" fill="#000" fill-opacity="0.55"/>
<circle cx="84.38" cy="242.74" r="1.7" fill="#000" fill-opacity="0.55"/>
<circle cx="84.38" cy="245.84" r="1.7" fill="#000" fill-opacity="0.55"/>
<circle cx="84.38" cy="250.18" r="1.7" fill="#000" fill-opacity="0.55"/>
<path d="M93.33 214.82V245.22" stroke="#000" stroke-opacity="0.7" stroke-width="1" fill="none"/>
<path d="M88.43 214.82H98.23" stroke="#000" stroke-opacity="0.7" stroke-width="1" fill="none"/>
<path d="M88.43 245.22H98.23" stroke="#000" stroke-opacity="0.75" stroke-width="1" fill="none"/>
<circle cx="93.33" cy="206.13" r="1.7" fill="#000" fill-opacity="0.45"/>
<circle cx="93.33" cy="214.2" r="1.7" fill="#000" fill-opacity="0.45"/>
<circle cx="93.33" cy="235.91" r="1.7" fill="#000" fill-opacity="0.55"/>
<circle cx="93.33" cy="245.22" r="1.7" fill="#000" fill-opacity="0.55"/>
<circle cx="93.33" cy="252.04" r="1.7" fill="#000" fill-opacity="0.55"/>
<path d="M112.31 214.2V245.47" stroke="#000" stroke-opacity="0.7" stroke-width="1" fill="none"/>
<path d="M107.41 214.2H117.21" stroke="#000" stroke-opacity="0.7" stroke-width="1" fill="none"/>
<path d="M107.41 245.47H117.21" stroke="#000" stroke-opacity="0.75" stroke-width="1" fill="none"/>
<circle cx="112.31" cy="201.42" r="1.7" fill="#000" fill-opacity="0.45"/>
<circle cx="112.31" cy="213.82" r="1.7" fill="#000" fill-opacity="0.45"/>
<circle cx="112.31" cy="235.91" r="1.7" fill="#000" fill-opacity="0.55"/>
<circle cx="112.31" cy="245.84" r="1.7" fill="#000" fill-opacity="0.55"/>
<circle cx="112.31" cy="252.04" r="1.7" fill="#000" fill-opacity="0.55"/>
<path d="M121.26 215.44V245.47" stroke="#000" stroke-opacity="0.7" stroke-width="1" fill="none"/>
<path d="M116.36 215.44H126.16" stroke="#000" stroke-opacity="0.7" stroke-width="1" fill="none"/>
<path d="M116.36 245.47H126.16" stroke="#000" stroke-opacity="0.75" stroke-width="1" fill="none"/>
<circle cx="121.26" cy="203.03" r="1.7" fill="#000" fill-opacity="0.45"/>
<circle cx="121.26" cy="215.44" r="1.7" fill="#000" fill-opacity="0.45"/>
<circle cx="121.26" cy="237.15" r="1.7" fill="#000" fill-opacity="0.55"/>
<circle cx="121.26" cy="243.98" r="1.7" fill="#000" fill-opacity="0.55"/>
<circle cx="121.26" cy="247.33" r="1.7" fill="#000" fill-opacity="0.55"/>
<circle cx="121.26" cy="251.67" r="1.7" fill="#000" fill-opacity="0.55"/>
<path d="M140.24 214.32V247.45" stroke="#000" stroke-opacity="0.7" stroke-width="1" fill="none"/>
<path d="M135.34 214.32H145.14" stroke="#000" stroke-opacity="0.7" stroke-width="1" fill="none"/>
<path d="M135.34 247.45H145.14" stroke="#000" stroke-opacity="0.75" stroke-width="1" fill="none"/>
<circle cx="140.24" cy="200.18" r="1.7" fill="#000" fill-opacity="0.45"/>
<circle cx="140.24" cy="212.34" r="1.7" fill="#000" fill-opacity="0.45"/>
<circle cx="140.24" cy="214.82" r="1.7" fill="#000" fill-opacity="0.45"/>
<circle cx="140.24" cy="236.53" r="1.7" fill="#000" fill-opacity="0.55"/>
<circle cx="140.24" cy="247.33" r="1.7" fill="#000" fill-opacity="0.55"/>
<circle cx="140.24" cy="253.53" r="1.7" fill="#000" fill-opacity="0.55"/>
<path d="M149.19 215.44V247.45" stroke="#000" stroke-opacity="0.7" stroke-width="1" fill="none"/>
<path d="M144.29 215.44H154.09" stroke="#000" stroke-opacity="0.7" stroke-width="1" fill="none"/>
<path d="M144.29 247.45H154.09" stroke="#000" stroke-opacity="0.75" stroke-width="1" fill="none"/>
<circle cx="149.19" cy="202.41" r="1.7" fill="#000" fill-opacity="0.45"/>
<circle cx="149.19" cy="212.34" r="1.7" fill="#000" fill-opacity="0.45"/>
<circle cx="149.19" cy="216.31" r="1.7" fill="#000" fill-opacity="0.45"/>
<circle cx="149.19" cy="238.39" r="1.7" fill="#000" fill-opacity="0.55"/>
<circle cx="149.19" cy="245.84" r="1.7" fill="#000" fill-opacity="0.55"/>
<circle cx="149.19" cy="248.32" r="1.7" fill="#000" fill-opacity="0.55"/>
<circle cx="149.19" cy="253.53" r="1.7" fill="#000" fill-opacity="0.55"/>
<path d="M168.17 214.32V248.32" stroke="#000" stroke-opacity="0.7" stroke-width="1" fill="none"/>
<path d="M163.27 214.32H173.07" stroke="#000" stroke-opacity="0.7" stroke-width="1" fill="none"/>
<path d="M163.27 248.32H173.07" stroke="#000" stroke-opacity="0.75" stroke-width="1" fill="none"/>
<circle cx="168.17" cy="195.83" r="1.7" fill="#000" fill-opacity="0.45"/>
<circle cx="168.17" cy="210.47" r="1.7" fill="#000" fill-opacity="0.45"/>
<circle cx="168.17" cy="218.29" r="1.7" fill="#000" fill-opacity="0.45"/>
<circle cx="168.17" cy="235.54" r="1.7" fill="#000" fill-opacity="0.55"/>
<circle cx="168.17" cy="248.07" r="1.7" fill="#000" fill-opacity="0.55"/>
<circle cx="168.17" cy="253.04" r="1.7" fill="#000" fill-opacity="0.55"/>
<path d="M177.12 212.71V248.32" stroke="#000" stroke-opacity="0.7" stroke-width="1" fill="none"/>
<path d="M172.22 212.71H182.02" stroke="#000" stroke-opacity="0.28" stroke-width="1.4" fill="none"/>
<path d="M172.22 248.32H182.02" stroke="#000" stroke-opacity="0.75" stroke-width="1" fill="none"/>
<circle cx="177.12" cy="198.07" r="1.7" fill="#000" fill-opacity="0.45"/>
<circle cx="177.12" cy="209.48" r="1.7" fill="#000" fill-opacity="0.45"/>
<circle cx="177.12" cy="216.06" r="1.7" fill="#000" fill-opacity="0.45"/>
<circle cx="177.12" cy="236.53" r="1.7" fill="#000" fill-opacity="0.55"/>
<circle cx="177.12" cy="248.32" r="1.7" fill="#000" fill-opacity="0.55"/>
<circle cx="177.12" cy="252.42" r="1.7" fill="#000" fill-opacity="0.55"/>
<path d="M196.1 216.06V247.45" stroke="#000" stroke-opacity="0.7" stroke-width="1" fill="none"/>
<path d="M191.2 216.06H201" stroke="#000" stroke-opacity="0.28" stroke-width="1.4" fill="none"/>
<path d="M191.2 247.45H201" stroke="#000" stroke-opacity="0.75" stroke-width="1" fill="none"/>
<circle cx="196.1" cy="198.69" r="1.7" fill="#000" fill-opacity="0.45"/>
<circle cx="196.1" cy="213.82" r="1.7" fill="#000" fill-opacity="0.45"/>
<circle cx="196.1" cy="217.3" r="1.7" fill="#000" fill-opacity="0.45"/>
<circle cx="196.1" cy="237.53" r="1.7" fill="#000" fill-opacity="0.55"/>
<circle cx="196.1" cy="247.33" r="1.7" fill="#000" fill-opacity="0.55"/>
<circle cx="196.1" cy="253.28" r="1.7" fill="#000" fill-opacity="0.55"/>
<path d="M205.05 217.05V247.08" stroke="#000" stroke-opacity="0.7" stroke-width="1" fill="none"/>
<path d="M200.15 217.05H209.95" stroke="#000" stroke-opacity="0.7" stroke-width="1" fill="none"/>
<path d="M200.15 247.08H209.95" stroke="#000" stroke-opacity="0.75" stroke-width="1" fill="none"/>
<circle cx="205.05" cy="199.31" r="1.7" fill="#000" fill-opacity="0.45"/>
<circle cx="205.05" cy="216.68" r="1.7" fill="#000" fill-opacity="0.45"/>
<circle cx="205.05" cy="236.53" r="1.7" fill="#000" fill-opacity="0.55"/>
<circle cx="205.05" cy="247.08" r="1.7" fill="#000" fill-opacity="0.55"/>
<circle cx="205.05" cy="252.66" r="1.7" fill="#000" fill-opacity="0.55"/>
<rect x="47.45" y="190.3" width="168.25" height="121.9" fill="none" stroke="#7f7f7f" stroke-width="1.1"/>
<path d="M44.85 312.2H47.45" stroke="#555" stroke-width="0.9"/>
<text x="41.05" y="315.4" font-size="9.0" text-anchor="end" fill="#333" textLength="5.55" lengthAdjust="spacingAndGlyphs">0</text>
<path d="M44.85 278.83H47.45" stroke="#555" stroke-width="0.9"/>
<text x="41.05" y="282.03" font-size="9.0" text-anchor="end" fill="#333" textLength="16.65" lengthAdjust="spacingAndGlyphs">200</text>
<path d="M44.85 245.47H47.45" stroke="#555" stroke-width="0.9"/>
<text x="41.05" y="248.67" font-size="9.0" text-anchor="end" fill="#333" textLength="16.65" lengthAdjust="spacingAndGlyphs">400</text>
<path d="M44.85 212.1H47.45" stroke="#555" stroke-width="0.9"/>
<text x="41.05" y="215.3" font-size="9.0" text-anchor="end" fill="#333" textLength="16.65" lengthAdjust="spacingAndGlyphs">600</text>
<path d="M60.9 312.2V315.4" stroke="#555" stroke-width="0.9"/>
<text x="60.6" y="326.9" font-size="9.4" text-anchor="middle" fill="#333">I</text>
<path d="M88.83 312.2V315.4" stroke="#555" stroke-width="0.9"/>
<text x="88.53" y="326.9" font-size="9.4" text-anchor="middle" fill="#333">II</text>
<path d="M116.76 312.2V315.4" stroke="#555" stroke-width="0.9"/>
<text x="116.46" y="326.9" font-size="9.4" text-anchor="middle" fill="#333">III</text>
<path d="M144.69 312.2V315.4" stroke="#555" stroke-width="0.9"/>
<text x="144.39" y="326.9" font-size="9.4" text-anchor="middle" fill="#333">IV</text>
<path d="M172.62 312.2V315.4" stroke="#555" stroke-width="0.9"/>
<text x="172.32" y="326.9" font-size="9.4" text-anchor="middle" fill="#333">V</text>
<path d="M200.55 312.2V315.4" stroke="#555" stroke-width="0.9"/>
<text x="200.25" y="326.9" font-size="9.4" text-anchor="middle" fill="#333">VI</text>
<text x="126.6" y="185.4" font-size="10.6" text-anchor="middle" fill="#333" textLength="69.3" lengthAdjust="spacingAndGlyphs">Mediterranean</text>
<text x="0.2" y="182.7" font-size="14.5" font-weight="bold" fill="#000">d</text>
<text transform="translate(14.6 251.25) rotate(-90)" x="0" y="0" font-size="10.2" text-anchor="middle" fill="#333"><tspan font-style="italic">P</tspan> (mm yr<tspan font-size="7.2" dy="-4.3">−1</tspan><tspan dy="4.3">)</tspan></text>
<rect x="286.7" y="242.12" width="9.6" height="70.08" fill="#ff826c"/>
<rect x="295.7" y="242.12" width="9.15" height="70.08" fill="#edab95"/>
<rect x="314.63" y="240.88" width="9.6" height="71.32" fill="#ff826c"/>
<rect x="323.63" y="241.87" width="9.15" height="70.33" fill="#edab95"/>
<rect x="342.56" y="241.12" width="9.6" height="71.08" fill="#ff826c"/>
<rect x="351.56" y="242.12" width="9.15" height="70.08" fill="#edab95"/>
<rect x="370.49" y="241.12" width="9.6" height="71.08" fill="#ff826c"/>
<rect x="379.49" y="242.99" width="9.15" height="69.21" fill="#edab95"/>
<rect x="398.42" y="240.26" width="9.6" height="71.94" fill="#ff826c"/>
<rect x="407.42" y="242.36" width="9.15" height="69.84" fill="#edab95"/>
<rect x="426.35" y="239.01" width="9.6" height="73.19" fill="#ff826c"/>
<rect x="435.35" y="242.12" width="9.15" height="70.08" fill="#edab95"/>
<path d="M291.25 232.56V258.25" stroke="#000" stroke-opacity="0.7" stroke-width="1" fill="none"/>
<path d="M286.35 232.56H296.15" stroke="#000" stroke-opacity="0.7" stroke-width="1" fill="none"/>
<path d="M286.35 258.25H296.15" stroke="#000" stroke-opacity="0.75" stroke-width="1" fill="none"/>
<circle cx="291.25" cy="199.31" r="1.7" fill="#000" fill-opacity="0.45"/>
<circle cx="291.25" cy="222.64" r="1.7" fill="#000" fill-opacity="0.45"/>
<circle cx="291.25" cy="243.11" r="1.7" fill="#000" fill-opacity="0.45"/>
<circle cx="291.25" cy="248.32" r="1.7" fill="#000" fill-opacity="0.55"/>
<circle cx="291.25" cy="258.25" r="1.7" fill="#000" fill-opacity="0.55"/>
<circle cx="291.25" cy="262.34" r="1.7" fill="#000" fill-opacity="0.55"/>
<path d="M300.2 233.8V257.88" stroke="#000" stroke-opacity="0.7" stroke-width="1" fill="none"/>
<path d="M295.3 233.8H305.1" stroke="#000" stroke-opacity="0.28" stroke-width="1.4" fill="none"/>
<path d="M295.3 257.88H305.1" stroke="#000" stroke-opacity="0.75" stroke-width="1" fill="none"/>
<circle cx="300.2" cy="199.55" r="1.7" fill="#000" fill-opacity="0.45"/>
<circle cx="300.2" cy="223.13" r="1.7" fill="#000" fill-opacity="0.45"/>
<circle cx="300.2" cy="246.46" r="1.7" fill="#000" fill-opacity="0.55"/>
<circle cx="300.2" cy="257.63" r="1.7" fill="#000" fill-opacity="0.55"/>
<circle cx="300.2" cy="261.1" r="1.7" fill="#000" fill-opacity="0.55"/>
<path d="M319.18 231.32V256.39" stroke="#000" stroke-opacity="0.7" stroke-width="1" fill="none"/>
<path d="M314.28 231.32H324.08" stroke="#000" stroke-opacity="0.7" stroke-width="1" fill="none"/>
<path d="M314.28 256.39H324.08" stroke="#000" stroke-opacity="0.75" stroke-width="1" fill="none"/>
<circle cx="319.18" cy="200.8" r="1.7" fill="#000" fill-opacity="0.45"/>
<circle cx="319.18" cy="221.64" r="1.7" fill="#000" fill-opacity="0.45"/>
<circle cx="319.18" cy="240.26" r="1.7" fill="#000" fill-opacity="0.45"/>
<circle cx="319.18" cy="247.45" r="1.7" fill="#000" fill-opacity="0.55"/>
<circle cx="319.18" cy="255.39" r="1.7" fill="#000" fill-opacity="0.55"/>
<circle cx="319.18" cy="260.73" r="1.7" fill="#000" fill-opacity="0.55"/>
<path d="M328.13 233.43V256.64" stroke="#000" stroke-opacity="0.7" stroke-width="1" fill="none"/>
<path d="M323.23 233.43H333.03" stroke="#000" stroke-opacity="0.7" stroke-width="1" fill="none"/>
<path d="M323.23 256.64H333.03" stroke="#000" stroke-opacity="0.75" stroke-width="1" fill="none"/>
<circle cx="328.13" cy="201.54" r="1.7" fill="#000" fill-opacity="0.45"/>
<circle cx="328.13" cy="222.88" r="1.7" fill="#000" fill-opacity="0.45"/>
<circle cx="328.13" cy="245.84" r="1.7" fill="#000" fill-opacity="0.55"/>
<circle cx="328.13" cy="256.76" r="1.7" fill="#000" fill-opacity="0.55"/>
<circle cx="328.13" cy="261.35" r="1.7" fill="#000" fill-opacity="0.55"/>
<path d="M347.11 232.56V256.39" stroke="#000" stroke-opacity="0.7" stroke-width="1" fill="none"/>
<path d="M342.21 232.56H352.01" stroke="#000" stroke-opacity="0.7" stroke-width="1" fill="none"/>
<path d="M342.21 256.39H352.01" stroke="#000" stroke-opacity="0.75" stroke-width="1" fill="none"/>
<circle cx="347.11" cy="198.93" r="1.7" fill="#000" fill-opacity="0.45"/>
<circle cx="347.11" cy="222.51" r="1.7" fill="#000" fill-opacity="0.45"/>
<circle cx="347.11" cy="243.11" r="1.7" fill="#000" fill-opacity="0.55"/>
<circle cx="347.11" cy="248.07" r="1.7" fill="#000" fill-opacity="0.55"/>
<circle cx="347.11" cy="255.52" r="1.7" fill="#000" fill-opacity="0.55"/>
<circle cx="347.11" cy="260.73" r="1.7" fill="#000" fill-opacity="0.55"/>
<path d="M356.06 234.3V257.01" stroke="#000" stroke-opacity="0.7" stroke-width="1" fill="none"/>
<path d="M351.16 234.3H360.96" stroke="#000" stroke-opacity="0.7" stroke-width="1" fill="none"/>
<path d="M351.16 257.01H360.96" stroke="#000" stroke-opacity="0.75" stroke-width="1" fill="none"/>
<circle cx="356.06" cy="200.18" r="1.7" fill="#000" fill-opacity="0.45"/>
<circle cx="356.06" cy="224.12" r="1.7" fill="#000" fill-opacity="0.45"/>
<circle cx="356.06" cy="247.08" r="1.7" fill="#000" fill-opacity="0.55"/>
<circle cx="356.06" cy="255.52" r="1.7" fill="#000" fill-opacity="0.55"/>
<circle cx="356.06" cy="257.01" r="1.7" fill="#000" fill-opacity="0.55"/>
<circle cx="356.06" cy="261.72" r="1.7" fill="#000" fill-opacity="0.55"/>
<path d="M375.04 232.56V257.01" stroke="#000" stroke-opacity="0.7" stroke-width="1" fill="none"/>
<path d="M370.14 232.56H379.94" stroke="#000" stroke-opacity="0.7" stroke-width="1" fill="none"/>
<path d="M370.14 257.01H379.94" stroke="#000" stroke-opacity="0.75" stroke-width="1" fill="none"/>
<circle cx="375.04" cy="199.31" r="1.7" fill="#000" fill-opacity="0.45"/>
<circle cx="375.04" cy="223.13" r="1.7" fill="#000" fill-opacity="0.45"/>
<circle cx="375.04" cy="242.12" r="1.7" fill="#000" fill-opacity="0.45"/>
<circle cx="375.04" cy="247.7" r="1.7" fill="#000" fill-opacity="0.55"/>
<circle cx="375.04" cy="256.39" r="1.7" fill="#000" fill-opacity="0.55"/>
<circle cx="375.04" cy="261.35" r="1.7" fill="#000" fill-opacity="0.55"/>
<path d="M383.99 235.54V257.38" stroke="#000" stroke-opacity="0.7" stroke-width="1" fill="none"/>
<path d="M379.09 235.54H388.89" stroke="#000" stroke-opacity="0.7" stroke-width="1" fill="none"/>
<path d="M379.09 257.38H388.89" stroke="#000" stroke-opacity="0.75" stroke-width="1" fill="none"/>
<circle cx="383.99" cy="199.93" r="1.7" fill="#000" fill-opacity="0.45"/>
<circle cx="383.99" cy="225.99" r="1.7" fill="#000" fill-opacity="0.45"/>
<circle cx="383.99" cy="245.84" r="1.7" fill="#000" fill-opacity="0.55"/>
<circle cx="383.99" cy="247.7" r="1.7" fill="#000" fill-opacity="0.55"/>
<circle cx="383.99" cy="256.39" r="1.7" fill="#000" fill-opacity="0.55"/>
<circle cx="383.99" cy="261.97" r="1.7" fill="#000" fill-opacity="0.55"/>
<path d="M402.97 232.56V256.39" stroke="#000" stroke-opacity="0.7" stroke-width="1" fill="none"/>
<path d="M398.07 232.56H407.87" stroke="#000" stroke-opacity="0.7" stroke-width="1" fill="none"/>
<path d="M398.07 256.39H407.87" stroke="#000" stroke-opacity="0.75" stroke-width="1" fill="none"/>
<circle cx="402.97" cy="195.83" r="1.7" fill="#000" fill-opacity="0.45"/>
<circle cx="402.97" cy="223.75" r="1.7" fill="#000" fill-opacity="0.45"/>
<circle cx="402.97" cy="240.88" r="1.7" fill="#000" fill-opacity="0.45"/>
<circle cx="402.97" cy="245.59" r="1.7" fill="#000" fill-opacity="0.55"/>
<circle cx="402.97" cy="256.39" r="1.7" fill="#000" fill-opacity="0.55"/>
<circle cx="402.97" cy="260.98" r="1.7" fill="#000" fill-opacity="0.55"/>
<path d="M411.92 235.29V258.25" stroke="#000" stroke-opacity="0.7" stroke-width="1" fill="none"/>
<path d="M407.02 235.29H416.82" stroke="#000" stroke-opacity="0.7" stroke-width="1" fill="none"/>
<path d="M407.02 258.25H416.82" stroke="#000" stroke-opacity="0.75" stroke-width="1" fill="none"/>
<circle cx="411.92" cy="199.06" r="1.7" fill="#000" fill-opacity="0.45"/>
<circle cx="411.92" cy="225.36" r="1.7" fill="#000" fill-opacity="0.45"/>
<circle cx="411.92" cy="246.46" r="1.7" fill="#000" fill-opacity="0.55"/>
<circle cx="411.92" cy="257.63" r="1.7" fill="#000" fill-opacity="0.55"/>
<circle cx="411.92" cy="261.35" r="1.7" fill="#000" fill-opacity="0.55"/>
<path d="M430.9 230.58V255.39" stroke="#000" stroke-opacity="0.7" stroke-width="1" fill="none"/>
<path d="M426 230.58H435.8" stroke="#000" stroke-opacity="0.7" stroke-width="1" fill="none"/>
<path d="M426 255.39H435.8" stroke="#000" stroke-opacity="0.75" stroke-width="1" fill="none"/>
<circle cx="430.9" cy="195.83" r="1.7" fill="#000" fill-opacity="0.45"/>
<circle cx="430.9" cy="221.64" r="1.7" fill="#000" fill-opacity="0.45"/>
<circle cx="430.9" cy="240.63" r="1.7" fill="#000" fill-opacity="0.55"/>
<circle cx="430.9" cy="244.35" r="1.7" fill="#000" fill-opacity="0.55"/>
<circle cx="430.9" cy="254.28" r="1.7" fill="#000" fill-opacity="0.55"/>
<circle cx="430.9" cy="259.49" r="1.7" fill="#000" fill-opacity="0.55"/>
<path d="M439.85 235.29V257.38" stroke="#000" stroke-opacity="0.7" stroke-width="1" fill="none"/>
<path d="M434.95 235.29H444.75" stroke="#000" stroke-opacity="0.7" stroke-width="1" fill="none"/>
<path d="M434.95 257.38H444.75" stroke="#000" stroke-opacity="0.75" stroke-width="1" fill="none"/>
<circle cx="439.85" cy="198.44" r="1.7" fill="#000" fill-opacity="0.45"/>
<circle cx="439.85" cy="225.36" r="1.7" fill="#000" fill-opacity="0.45"/>
<circle cx="439.85" cy="246.83" r="1.7" fill="#000" fill-opacity="0.55"/>
<circle cx="439.85" cy="255.77" r="1.7" fill="#000" fill-opacity="0.55"/>
<circle cx="439.85" cy="260.98" r="1.7" fill="#000" fill-opacity="0.55"/>
<rect x="282.45" y="190.3" width="167.65" height="121.9" fill="none" stroke="#7f7f7f" stroke-width="1.1"/>
<path d="M279.85 312.2H282.45" stroke="#555" stroke-width="0.9"/>
<text x="276.05" y="315.4" font-size="9.0" text-anchor="end" fill="#333" textLength="5.55" lengthAdjust="spacingAndGlyphs">0</text>
<path d="M279.85 278.2H282.45" stroke="#555" stroke-width="0.9"/>
<text x="276.05" y="281.4" font-size="9.0" text-anchor="end" fill="#333" textLength="16.65" lengthAdjust="spacingAndGlyphs">200</text>
<path d="M279.85 244.2H282.45" stroke="#555" stroke-width="0.9"/>
<text x="276.05" y="247.4" font-size="9.0" text-anchor="end" fill="#333" textLength="16.65" lengthAdjust="spacingAndGlyphs">400</text>
<path d="M279.85 210.2H282.45" stroke="#555" stroke-width="0.9"/>
<text x="276.05" y="213.4" font-size="9.0" text-anchor="end" fill="#333" textLength="16.65" lengthAdjust="spacingAndGlyphs">600</text>
<path d="M295.7 312.2V315.4" stroke="#555" stroke-width="0.9"/>
<text x="295.4" y="326.9" font-size="9.4" text-anchor="middle" fill="#333">I</text>
<path d="M323.63 312.2V315.4" stroke="#555" stroke-width="0.9"/>
<text x="323.33" y="326.9" font-size="9.4" text-anchor="middle" fill="#333">II</text>
<path d="M351.56 312.2V315.4" stroke="#555" stroke-width="0.9"/>
<text x="351.26" y="326.9" font-size="9.4" text-anchor="middle" fill="#333">III</text>
<path d="M379.49 312.2V315.4" stroke="#555" stroke-width="0.9"/>
<text x="379.19" y="326.9" font-size="9.4" text-anchor="middle" fill="#333">IV</text>
<path d="M407.42 312.2V315.4" stroke="#555" stroke-width="0.9"/>
<text x="407.12" y="326.9" font-size="9.4" text-anchor="middle" fill="#333">V</text>
<path d="M435.35 312.2V315.4" stroke="#555" stroke-width="0.9"/>
<text x="435.05" y="326.9" font-size="9.4" text-anchor="middle" fill="#333">VI</text>
<text x="361.9" y="185.4" font-size="10.6" text-anchor="middle" fill="#333" textLength="69.3" lengthAdjust="spacingAndGlyphs">Mediterranean</text>
<text x="241.4" y="182.7" font-size="14.5" font-weight="bold" fill="#000">e</text>
<text transform="translate(250.8 251.25) rotate(-90)" x="0" y="0" font-size="10.2" text-anchor="middle" fill="#333">ET (mm yr<tspan font-size="7.2" dy="-4.3">−1</tspan><tspan dy="4.3">)</tspan></text>
<rect x="521.1" y="261.58" width="9.6" height="50.62" fill="#33ff33"/>
<rect x="530.1" y="262.81" width="9.15" height="49.39" fill="#a6f1a6"/>
<rect x="549.03" y="259.74" width="9.6" height="52.46" fill="#33ff33"/>
<rect x="558.03" y="263.12" width="9.15" height="49.08" fill="#a6f1a6"/>
<rect x="576.96" y="261.28" width="9.6" height="50.92" fill="#33ff33"/>
<rect x="585.96" y="262.81" width="9.15" height="49.39" fill="#a6f1a6"/>
<rect x="604.89" y="260.82" width="9.6" height="51.38" fill="#33ff33"/>
<rect x="613.89" y="262.81" width="9.15" height="49.39" fill="#a6f1a6"/>
<rect x="632.82" y="260.2" width="9.6" height="52" fill="#33ff33"/>
<rect x="641.82" y="260.97" width="9.15" height="51.23" fill="#a6f1a6"/>
<rect x="660.75" y="263.88" width="9.6" height="48.32" fill="#33ff33"/>
<rect x="669.75" y="264.34" width="9.15" height="47.86" fill="#a6f1a6"/>
<path d="M525.65 243.65V261.58" stroke="#000" stroke-opacity="0.28" stroke-width="1.4" fill="none"/>
<path d="M525.65 261.58V284.27" stroke="#000" stroke-opacity="0.7" stroke-width="1" fill="none"/>
<path d="M520.75 243.65H530.55" stroke="#000" stroke-opacity="0.28" stroke-width="1.4" fill="none"/>
<path d="M520.75 284.27H530.55" stroke="#000" stroke-opacity="0.75" stroke-width="1" fill="none"/>
<circle cx="525.65" cy="208.39" r="1.7" fill="#000" fill-opacity="0.45"/>
<circle cx="525.65" cy="214.83" r="1.7" fill="#000" fill-opacity="0.45"/>
<circle cx="525.65" cy="270.78" r="1.7" fill="#000" fill-opacity="0.55"/>
<circle cx="525.65" cy="280.74" r="1.7" fill="#000" fill-opacity="0.55"/>
<circle cx="525.65" cy="284.73" r="1.7" fill="#000" fill-opacity="0.55"/>
<circle cx="525.65" cy="286.26" r="1.7" fill="#000" fill-opacity="0.55"/>
<path d="M534.6 247.48V284.27" stroke="#000" stroke-opacity="0.7" stroke-width="1" fill="none"/>
<path d="M529.7 247.48H539.5" stroke="#000" stroke-opacity="0.7" stroke-width="1" fill="none"/>
<path d="M529.7 284.27H539.5" stroke="#000" stroke-opacity="0.75" stroke-width="1" fill="none"/>
<circle cx="534.6" cy="208.39" r="1.7" fill="#000" fill-opacity="0.45"/>
<circle cx="534.6" cy="220.35" r="1.7" fill="#000" fill-opacity="0.45"/>
<circle cx="534.6" cy="274.31" r="1.7" fill="#000" fill-opacity="0.55"/>
<circle cx="534.6" cy="279.36" r="1.7" fill="#000" fill-opacity="0.55"/>
<circle cx="534.6" cy="285.04" r="1.7" fill="#000" fill-opacity="0.55"/>
<path d="M553.58 243.34V259.74" stroke="#000" stroke-opacity="0.28" stroke-width="1.4" fill="none"/>
<path d="M553.58 259.74V281.51" stroke="#000" stroke-opacity="0.7" stroke-width="1" fill="none"/>
<path d="M548.68 243.34H558.48" stroke="#000" stroke-opacity="0.7" stroke-width="1" fill="none"/>
<path d="M548.68 281.51H558.48" stroke="#000" stroke-opacity="0.75" stroke-width="1" fill="none"/>
<circle cx="553.58" cy="209.93" r="1.85" fill="#000" fill-opacity="0.82"/>
<circle cx="553.58" cy="270.78" r="1.7" fill="#000" fill-opacity="0.55"/>
<circle cx="553.58" cy="278.6" r="1.7" fill="#000" fill-opacity="0.55"/>
<circle cx="553.58" cy="281.97" r="1.7" fill="#000" fill-opacity="0.55"/>
<circle cx="553.58" cy="283.5" r="1.7" fill="#000" fill-opacity="0.55"/>
<path d="M562.53 248.25V283.2" stroke="#000" stroke-opacity="0.7" stroke-width="1" fill="none"/>
<path d="M557.63 248.25H567.43" stroke="#000" stroke-opacity="0.7" stroke-width="1" fill="none"/>
<path d="M557.63 283.2H567.43" stroke="#000" stroke-opacity="0.75" stroke-width="1" fill="none"/>
<circle cx="562.53" cy="213.76" r="1.7" fill="#000" fill-opacity="0.45"/>
<circle cx="562.53" cy="219.58" r="1.7" fill="#000" fill-opacity="0.45"/>
<circle cx="562.53" cy="275.84" r="1.7" fill="#000" fill-opacity="0.55"/>
<circle cx="562.53" cy="280.13" r="1.7" fill="#000" fill-opacity="0.55"/>
<circle cx="562.53" cy="283.81" r="1.7" fill="#000" fill-opacity="0.55"/>
<circle cx="562.53" cy="286.26" r="1.7" fill="#000" fill-opacity="0.55"/>
<path d="M581.51 244.42V261.28" stroke="#000" stroke-opacity="0.28" stroke-width="1.4" fill="none"/>
<path d="M581.51 261.28V283.81" stroke="#000" stroke-opacity="0.7" stroke-width="1" fill="none"/>
<path d="M576.61 244.42H586.41" stroke="#000" stroke-opacity="0.28" stroke-width="1.4" fill="none"/>
<path d="M576.61 283.81H586.41" stroke="#000" stroke-opacity="0.75" stroke-width="1" fill="none"/>
<circle cx="581.51" cy="205.64" r="1.7" fill="#000" fill-opacity="0.45"/>
<circle cx="581.51" cy="216.36" r="1.7" fill="#000" fill-opacity="0.45"/>
<circle cx="581.51" cy="271.7" r="1.7" fill="#000" fill-opacity="0.55"/>
<circle cx="581.51" cy="280.44" r="1.7" fill="#000" fill-opacity="0.55"/>
<circle cx="581.51" cy="283.81" r="1.7" fill="#000" fill-opacity="0.55"/>
<circle cx="581.51" cy="286.88" r="1.7" fill="#000" fill-opacity="0.55"/>
<path d="M590.46 248.55V283.2" stroke="#000" stroke-opacity="0.7" stroke-width="1" fill="none"/>
<path d="M585.56 248.55H595.36" stroke="#000" stroke-opacity="0.7" stroke-width="1" fill="none"/>
<path d="M585.56 283.2H595.36" stroke="#000" stroke-opacity="0.75" stroke-width="1" fill="none"/>
<circle cx="590.46" cy="209.62" r="1.7" fill="#000" fill-opacity="0.45"/>
<circle cx="590.46" cy="220.2" r="1.7" fill="#000" fill-opacity="0.45"/>
<circle cx="590.46" cy="277.07" r="1.7" fill="#000" fill-opacity="0.55"/>
<circle cx="590.46" cy="280.74" r="1.7" fill="#000" fill-opacity="0.55"/>
<circle cx="590.46" cy="282.74" r="1.7" fill="#000" fill-opacity="0.55"/>
<circle cx="590.46" cy="286.26" r="1.7" fill="#000" fill-opacity="0.55"/>
<path d="M609.44 242.42V285.34" stroke="#000" stroke-opacity="0.7" stroke-width="1" fill="none"/>
<path d="M604.54 242.42H614.34" stroke="#000" stroke-opacity="0.7" stroke-width="1" fill="none"/>
<path d="M604.54 285.34H614.34" stroke="#000" stroke-opacity="0.75" stroke-width="1" fill="none"/>
<circle cx="609.44" cy="203.49" r="1.7" fill="#000" fill-opacity="0.45"/>
<circle cx="609.44" cy="214.53" r="1.7" fill="#000" fill-opacity="0.45"/>
<circle cx="609.44" cy="268.18" r="1.7" fill="#000" fill-opacity="0.55"/>
<circle cx="609.44" cy="281.97" r="1.7" fill="#000" fill-opacity="0.55"/>
<circle cx="609.44" cy="283.5" r="1.7" fill="#000" fill-opacity="0.55"/>
<circle cx="609.44" cy="287.8" r="1.7" fill="#000" fill-opacity="0.55"/>
<path d="M618.39 246.41V285.34" stroke="#000" stroke-opacity="0.7" stroke-width="1" fill="none"/>
<path d="M613.49 246.41H623.29" stroke="#000" stroke-opacity="0.7" stroke-width="1" fill="none"/>
<path d="M613.49 285.34H623.29" stroke="#000" stroke-opacity="0.75" stroke-width="1" fill="none"/>
<circle cx="618.39" cy="210.23" r="1.7" fill="#000" fill-opacity="0.45"/>
<circle cx="618.39" cy="216.82" r="1.7" fill="#000" fill-opacity="0.45"/>
<circle cx="618.39" cy="274.31" r="1.7" fill="#000" fill-opacity="0.55"/>
<circle cx="618.39" cy="281.97" r="1.7" fill="#000" fill-opacity="0.55"/>
<circle cx="618.39" cy="286.26" r="1.7" fill="#000" fill-opacity="0.55"/>
<path d="M637.37 241.35V286.88" stroke="#000" stroke-opacity="0.7" stroke-width="1" fill="none"/>
<path d="M632.47 241.35H642.27" stroke="#000" stroke-opacity="0.7" stroke-width="1" fill="none"/>
<path d="M632.47 286.88H642.27" stroke="#000" stroke-opacity="0.75" stroke-width="1" fill="none"/>
<circle cx="637.37" cy="195.82" r="1.7" fill="#000" fill-opacity="0.45"/>
<circle cx="637.37" cy="210.23" r="1.7" fill="#000" fill-opacity="0.45"/>
<circle cx="637.37" cy="269.71" r="1.7" fill="#000" fill-opacity="0.55"/>
<circle cx="637.37" cy="281.97" r="1.7" fill="#000" fill-opacity="0.55"/>
<circle cx="637.37" cy="284.27" r="1.7" fill="#000" fill-opacity="0.55"/>
<circle cx="637.37" cy="289.33" r="1.7" fill="#000" fill-opacity="0.55"/>
<path d="M646.32 243.96V284.27" stroke="#000" stroke-opacity="0.7" stroke-width="1" fill="none"/>
<path d="M641.42 243.96H651.22" stroke="#000" stroke-opacity="0.7" stroke-width="1" fill="none"/>
<path d="M641.42 284.27H651.22" stroke="#000" stroke-opacity="0.75" stroke-width="1" fill="none"/>
<circle cx="646.32" cy="202.26" r="1.7" fill="#000" fill-opacity="0.45"/>
<circle cx="646.32" cy="210.23" r="1.7" fill="#000" fill-opacity="0.45"/>
<circle cx="646.32" cy="274.77" r="1.7" fill="#000" fill-opacity="0.55"/>
<circle cx="646.32" cy="281.66" r="1.7" fill="#000" fill-opacity="0.55"/>
<circle cx="646.32" cy="285.34" r="1.7" fill="#000" fill-opacity="0.55"/>
<path d="M665.3 245.18V289.33" stroke="#000" stroke-opacity="0.7" stroke-width="1" fill="none"/>
<path d="M660.4 245.18H670.2" stroke="#000" stroke-opacity="0.7" stroke-width="1" fill="none"/>
<path d="M660.4 289.33H670.2" stroke="#000" stroke-opacity="0.75" stroke-width="1" fill="none"/>
<circle cx="665.3" cy="201.19" r="1.7" fill="#000" fill-opacity="0.45"/>
<circle cx="665.3" cy="219.89" r="1.7" fill="#000" fill-opacity="0.45"/>
<circle cx="665.3" cy="270.17" r="1.7" fill="#000" fill-opacity="0.55"/>
<circle cx="665.3" cy="282.43" r="1.7" fill="#000" fill-opacity="0.55"/>
<circle cx="665.3" cy="287.34" r="1.7" fill="#000" fill-opacity="0.55"/>
<circle cx="665.3" cy="290.86" r="1.7" fill="#000" fill-opacity="0.55"/>
<circle cx="665.3" cy="292.7" r="1.7" fill="#000" fill-opacity="0.55"/>
<path d="M674.25 251.31V285.34" stroke="#000" stroke-opacity="0.7" stroke-width="1" fill="none"/>
<path d="M669.35 251.31H679.15" stroke="#000" stroke-opacity="0.7" stroke-width="1" fill="none"/>
<path d="M669.35 285.34H679.15" stroke="#000" stroke-opacity="0.75" stroke-width="1" fill="none"/>
<circle cx="674.25" cy="205.79" r="1.7" fill="#000" fill-opacity="0.45"/>
<circle cx="674.25" cy="225.26" r="1.7" fill="#000" fill-opacity="0.45"/>
<circle cx="674.25" cy="278.91" r="1.7" fill="#000" fill-opacity="0.55"/>
<circle cx="674.25" cy="283.5" r="1.7" fill="#000" fill-opacity="0.55"/>
<circle cx="674.25" cy="285.34" r="1.7" fill="#000" fill-opacity="0.55"/>
<circle cx="674.25" cy="287.34" r="1.7" fill="#000" fill-opacity="0.55"/>
<rect x="517.35" y="190.3" width="167.15" height="121.9" fill="none" stroke="#7f7f7f" stroke-width="1.1"/>
<path d="M514.75 312.2H517.35" stroke="#555" stroke-width="0.9"/>
<text x="510.95" y="315.4" font-size="9.0" text-anchor="end" fill="#333" textLength="5.55" lengthAdjust="spacingAndGlyphs">0</text>
<path d="M514.75 290.14H517.35" stroke="#555" stroke-width="0.9"/>
<text x="510.95" y="293.34" font-size="9.0" text-anchor="end" fill="#333" textLength="11.1" lengthAdjust="spacingAndGlyphs">50</text>
<path d="M514.75 268.08H517.35" stroke="#555" stroke-width="0.9"/>
<text x="510.95" y="271.28" font-size="9.0" text-anchor="end" fill="#333" textLength="16.65" lengthAdjust="spacingAndGlyphs">100</text>
<path d="M514.75 246.02H517.35" stroke="#555" stroke-width="0.9"/>
<text x="510.95" y="249.22" font-size="9.0" text-anchor="end" fill="#333" textLength="16.65" lengthAdjust="spacingAndGlyphs">150</text>
<path d="M514.75 223.96H517.35" stroke="#555" stroke-width="0.9"/>
<text x="510.95" y="227.16" font-size="9.0" text-anchor="end" fill="#333" textLength="16.65" lengthAdjust="spacingAndGlyphs">200</text>
<path d="M514.75 201.9H517.35" stroke="#555" stroke-width="0.9"/>
<text x="510.95" y="205.1" font-size="9.0" text-anchor="end" fill="#333" textLength="16.65" lengthAdjust="spacingAndGlyphs">250</text>
<path d="M530.1 312.2V315.4" stroke="#555" stroke-width="0.9"/>
<text x="529.8" y="326.9" font-size="9.4" text-anchor="middle" fill="#333">I</text>
<path d="M558.03 312.2V315.4" stroke="#555" stroke-width="0.9"/>
<text x="557.73" y="326.9" font-size="9.4" text-anchor="middle" fill="#333">II</text>
<path d="M585.96 312.2V315.4" stroke="#555" stroke-width="0.9"/>
<text x="585.66" y="326.9" font-size="9.4" text-anchor="middle" fill="#333">III</text>
<path d="M613.89 312.2V315.4" stroke="#555" stroke-width="0.9"/>
<text x="613.59" y="326.9" font-size="9.4" text-anchor="middle" fill="#333">IV</text>
<path d="M641.82 312.2V315.4" stroke="#555" stroke-width="0.9"/>
<text x="641.52" y="326.9" font-size="9.4" text-anchor="middle" fill="#333">V</text>
<path d="M669.75 312.2V315.4" stroke="#555" stroke-width="0.9"/>
<text x="669.45" y="326.9" font-size="9.4" text-anchor="middle" fill="#333">VI</text>
<text x="603.6" y="185.4" font-size="10.6" text-anchor="middle" fill="#333" textLength="69.3" lengthAdjust="spacingAndGlyphs">Mediterranean</text>
<text x="469.9" y="182.7" font-size="14.5" font-weight="bold" fill="#000">f</text>
<text transform="translate(485.9 251.25) rotate(-90)" x="0" y="0" font-size="10.2" text-anchor="middle" fill="#333"><tspan font-style="italic">R</tspan> (mm yr<tspan font-size="7.2" dy="-4.3">−1</tspan><tspan dy="4.3">)</tspan></text>
<rect x="51.9" y="389.54" width="9.6" height="93.96" fill="#4ba6ff"/>
<rect x="60.9" y="389.91" width="9.15" height="93.59" fill="#33ffff"/>
<rect x="79.83" y="389.54" width="9.6" height="93.96" fill="#4ba6ff"/>
<rect x="88.83" y="388.3" width="9.15" height="95.2" fill="#33ffff"/>
<rect x="107.76" y="390.16" width="9.6" height="93.34" fill="#4ba6ff"/>
<rect x="116.76" y="390.16" width="9.15" height="93.34" fill="#33ffff"/>
<rect x="135.69" y="391.03" width="9.6" height="92.47" fill="#4ba6ff"/>
<rect x="144.69" y="390.78" width="9.15" height="92.72" fill="#33ffff"/>
<rect x="163.62" y="388.3" width="9.6" height="95.2" fill="#4ba6ff"/>
<rect x="172.62" y="389.17" width="9.15" height="94.33" fill="#33ffff"/>
<rect x="191.55" y="391.03" width="9.6" height="92.47" fill="#4ba6ff"/>
<rect x="200.55" y="393.88" width="9.15" height="89.62" fill="#33ffff"/>
<path d="M56.45 380.48V400.46" stroke="#000" stroke-opacity="0.7" stroke-width="1" fill="none"/>
<path d="M51.55 380.48H61.35" stroke="#000" stroke-opacity="0.7" stroke-width="1" fill="none"/>
<path d="M51.55 400.46H61.35" stroke="#000" stroke-opacity="0.75" stroke-width="1" fill="none"/>
<circle cx="56.45" cy="367.2" r="1.7" fill="#000" fill-opacity="0.45"/>
<circle cx="56.45" cy="378.37" r="1.85" fill="#000" fill-opacity="0.82"/>
<circle cx="56.45" cy="399.72" r="1.7" fill="#000" fill-opacity="0.55"/>
<circle cx="56.45" cy="400.96" r="1.7" fill="#000" fill-opacity="0.55"/>
<path d="M65.4 379.36V400.46" stroke="#000" stroke-opacity="0.7" stroke-width="1" fill="none"/>
<path d="M60.5 379.36H70.3" stroke="#000" stroke-opacity="0.7" stroke-width="1" fill="none"/>
<path d="M60.5 400.46H70.3" stroke="#000" stroke-opacity="0.75" stroke-width="1" fill="none"/>
<circle cx="65.4" cy="373.41" r="1.7" fill="#000" fill-opacity="0.45"/>
<circle cx="65.4" cy="375.27" r="1.7" fill="#000" fill-opacity="0.45"/>
<circle cx="65.4" cy="377.13" r="1.7" fill="#000" fill-opacity="0.45"/>
<circle cx="65.4" cy="397.61" r="1.7" fill="#000" fill-opacity="0.55"/>
<circle cx="65.4" cy="399.47" r="1.7" fill="#000" fill-opacity="0.55"/>
<circle cx="65.4" cy="401.95" r="1.7" fill="#000" fill-opacity="0.55"/>
<path d="M84.38 376.51V401.33" stroke="#000" stroke-opacity="0.7" stroke-width="1" fill="none"/>
<path d="M79.48 376.51H89.28" stroke="#000" stroke-opacity="0.7" stroke-width="1" fill="none"/>
<path d="M79.48 401.33H89.28" stroke="#000" stroke-opacity="0.75" stroke-width="1" fill="none"/>
<circle cx="84.38" cy="373.16" r="1.85" fill="#000" fill-opacity="0.82"/>
<circle cx="84.38" cy="399.22" r="1.7" fill="#000" fill-opacity="0.55"/>
<circle cx="84.38" cy="401.33" r="1.7" fill="#000" fill-opacity="0.55"/>
<circle cx="84.38" cy="404.43" r="1.7" fill="#000" fill-opacity="0.55"/>
<path d="M93.33 375.27V401.7" stroke="#000" stroke-opacity="0.7" stroke-width="1" fill="none"/>
<path d="M88.43 375.27H98.23" stroke="#000" stroke-opacity="0.7" stroke-width="1" fill="none"/>
<path d="M88.43 401.7H98.23" stroke="#000" stroke-opacity="0.75" stroke-width="1" fill="none"/>
<circle cx="93.33" cy="368.45" r="1.7" fill="#000" fill-opacity="0.45"/>
<circle cx="93.33" cy="370.93" r="1.7" fill="#000" fill-opacity="0.45"/>
<circle cx="93.33" cy="373.41" r="1.7" fill="#000" fill-opacity="0.45"/>
<circle cx="93.33" cy="399.47" r="1.7" fill="#000" fill-opacity="0.55"/>
<circle cx="93.33" cy="403.44" r="1.7" fill="#000" fill-opacity="0.55"/>
<path d="M112.31 376.26V403.44" stroke="#000" stroke-opacity="0.7" stroke-width="1" fill="none"/>
<path d="M107.41 376.26H117.21" stroke="#000" stroke-opacity="0.7" stroke-width="1" fill="none"/>
<path d="M107.41 403.44H117.21" stroke="#000" stroke-opacity="0.75" stroke-width="1" fill="none"/>
<circle cx="112.31" cy="372.42" r="1.85" fill="#000" fill-opacity="0.82"/>
<circle cx="112.31" cy="399.47" r="1.7" fill="#000" fill-opacity="0.55"/>
<circle cx="112.31" cy="401.33" r="1.7" fill="#000" fill-opacity="0.55"/>
<circle cx="112.31" cy="404.68" r="1.7" fill="#000" fill-opacity="0.55"/>
<circle cx="112.31" cy="408.77" r="1.7" fill="#000" fill-opacity="0.55"/>
<path d="M121.26 376.26V402.32" stroke="#000" stroke-opacity="0.7" stroke-width="1" fill="none"/>
<path d="M116.36 376.26H126.16" stroke="#000" stroke-opacity="0.7" stroke-width="1" fill="none"/>
<path d="M116.36 402.32H126.16" stroke="#000" stroke-opacity="0.75" stroke-width="1" fill="none"/>
<circle cx="121.26" cy="369.93" r="1.7" fill="#000" fill-opacity="0.45"/>
<circle cx="121.26" cy="374.03" r="1.85" fill="#000" fill-opacity="0.82"/>
<circle cx="121.26" cy="399.47" r="1.7" fill="#000" fill-opacity="0.55"/>
<circle cx="121.26" cy="404.68" r="1.7" fill="#000" fill-opacity="0.55"/>
<circle cx="121.26" cy="406.91" r="1.7" fill="#000" fill-opacity="0.55"/>
<path d="M140.24 378V403.44" stroke="#000" stroke-opacity="0.7" stroke-width="1" fill="none"/>
<path d="M135.34 378H145.14" stroke="#000" stroke-opacity="0.28" stroke-width="1.4" fill="none"/>
<path d="M135.34 403.44H145.14" stroke="#000" stroke-opacity="0.75" stroke-width="1" fill="none"/>
<circle cx="140.24" cy="373.04" r="1.85" fill="#000" fill-opacity="0.82"/>
<circle cx="140.24" cy="374.4" r="1.85" fill="#000" fill-opacity="0.82"/>
<circle cx="140.24" cy="401.95" r="1.7" fill="#000" fill-opacity="0.55"/>
<circle cx="140.24" cy="403.44" r="1.7" fill="#000" fill-opacity="0.55"/>
<circle cx="140.24" cy="406.91" r="1.7" fill="#000" fill-opacity="0.55"/>
<path d="M149.19 378.37V403.44" stroke="#000" stroke-opacity="0.7" stroke-width="1" fill="none"/>
<path d="M144.29 378.37H154.09" stroke="#000" stroke-opacity="0.7" stroke-width="1" fill="none"/>
<path d="M144.29 403.44H154.09" stroke="#000" stroke-opacity="0.75" stroke-width="1" fill="none"/>
<circle cx="149.19" cy="373.04" r="1.85" fill="#000" fill-opacity="0.82"/>
<circle cx="149.19" cy="374.4" r="1.85" fill="#000" fill-opacity="0.82"/>
<circle cx="149.19" cy="400.46" r="1.7" fill="#000" fill-opacity="0.55"/>
<circle cx="149.19" cy="404.68" r="1.7" fill="#000" fill-opacity="0.55"/>
<circle cx="149.19" cy="407.16" r="1.7" fill="#000" fill-opacity="0.55"/>
<path d="M168.17 377.38V400.46" stroke="#000" stroke-opacity="0.7" stroke-width="1" fill="none"/>
<path d="M163.27 377.38H173.07" stroke="#000" stroke-opacity="0.7" stroke-width="1" fill="none"/>
<path d="M163.27 400.46H173.07" stroke="#000" stroke-opacity="0.75" stroke-width="1" fill="none"/>
<circle cx="168.17" cy="372.42" r="1.85" fill="#000" fill-opacity="0.82"/>
<circle cx="168.17" cy="398.23" r="1.7" fill="#000" fill-opacity="0.55"/>
<circle cx="168.17" cy="399.47" r="1.7" fill="#000" fill-opacity="0.55"/>
<circle cx="168.17" cy="403.81" r="1.7" fill="#000" fill-opacity="0.55"/>
<path d="M177.12 378.37V400.71" stroke="#000" stroke-opacity="0.7" stroke-width="1" fill="none"/>
<path d="M172.22 378.37H182.02" stroke="#000" stroke-opacity="0.7" stroke-width="1" fill="none"/>
<path d="M172.22 400.71H182.02" stroke="#000" stroke-opacity="0.75" stroke-width="1" fill="none"/>
<circle cx="177.12" cy="372.42" r="1.7" fill="#000" fill-opacity="0.45"/>
<circle cx="177.12" cy="375.89" r="1.7" fill="#000" fill-opacity="0.45"/>
<circle cx="177.12" cy="398.23" r="1.7" fill="#000" fill-opacity="0.55"/>
<circle cx="177.12" cy="401.33" r="1.7" fill="#000" fill-opacity="0.55"/>
<path d="M196.1 376.76V404.68" stroke="#000" stroke-opacity="0.7" stroke-width="1" fill="none"/>
<path d="M191.2 376.76H201" stroke="#000" stroke-opacity="0.7" stroke-width="1" fill="none"/>
<path d="M191.2 404.68H201" stroke="#000" stroke-opacity="0.75" stroke-width="1" fill="none"/>
<circle cx="196.1" cy="370.68" r="1.85" fill="#000" fill-opacity="0.82"/>
<circle cx="196.1" cy="375.27" r="1.7" fill="#000" fill-opacity="0.45"/>
<circle cx="196.1" cy="403.81" r="1.7" fill="#000" fill-opacity="0.55"/>
<circle cx="196.1" cy="405.05" r="1.7" fill="#000" fill-opacity="0.55"/>
<circle cx="196.1" cy="407.16" r="1.7" fill="#000" fill-opacity="0.55"/>
<path d="M205.05 379.61V407.28" stroke="#000" stroke-opacity="0.7" stroke-width="1" fill="none"/>
<path d="M200.15 379.61H209.95" stroke="#000" stroke-opacity="0.7" stroke-width="1" fill="none"/>
<path d="M200.15 407.28H209.95" stroke="#000" stroke-opacity="0.75" stroke-width="1" fill="none"/>
<circle cx="205.05" cy="374.9" r="1.85" fill="#000" fill-opacity="0.82"/>
<circle cx="205.05" cy="375.89" r="1.85" fill="#000" fill-opacity="0.82"/>
<circle cx="205.05" cy="405.67" r="1.7" fill="#000" fill-opacity="0.55"/>
<circle cx="205.05" cy="410.64" r="1.7" fill="#000" fill-opacity="0.55"/>
<rect x="47.45" y="361.3" width="168.25" height="122.3" fill="none" stroke="#7f7f7f" stroke-width="1.1"/>
<path d="M44.85 483.5H47.45" stroke="#555" stroke-width="0.9"/>
<text x="41.05" y="486.7" font-size="9.0" text-anchor="end" fill="#333" textLength="5.55" lengthAdjust="spacingAndGlyphs">0</text>
<path d="M44.85 454.5H47.45" stroke="#555" stroke-width="0.9"/>
<text x="41.05" y="457.7" font-size="9.0" text-anchor="end" fill="#333" textLength="16.65" lengthAdjust="spacingAndGlyphs">200</text>
<path d="M44.85 425.5H47.45" stroke="#555" stroke-width="0.9"/>
<text x="41.05" y="428.7" font-size="9.0" text-anchor="end" fill="#333" textLength="16.65" lengthAdjust="spacingAndGlyphs">400</text>
<path d="M44.85 396.5H47.45" stroke="#555" stroke-width="0.9"/>
<text x="41.05" y="399.7" font-size="9.0" text-anchor="end" fill="#333" textLength="16.65" lengthAdjust="spacingAndGlyphs">600</text>
<path d="M44.85 367.5H47.45" stroke="#555" stroke-width="0.9"/>
<text x="41.05" y="370.7" font-size="9.0" text-anchor="end" fill="#333" textLength="16.65" lengthAdjust="spacingAndGlyphs">800</text>
<path d="M60.9 483.6V486.8" stroke="#555" stroke-width="0.9"/>
<text x="60.6" y="498.3" font-size="9.4" text-anchor="middle" fill="#333">I</text>
<path d="M88.83 483.6V486.8" stroke="#555" stroke-width="0.9"/>
<text x="88.53" y="498.3" font-size="9.4" text-anchor="middle" fill="#333">II</text>
<path d="M116.76 483.6V486.8" stroke="#555" stroke-width="0.9"/>
<text x="116.46" y="498.3" font-size="9.4" text-anchor="middle" fill="#333">III</text>
<path d="M144.69 483.6V486.8" stroke="#555" stroke-width="0.9"/>
<text x="144.39" y="498.3" font-size="9.4" text-anchor="middle" fill="#333">IV</text>
<path d="M172.62 483.6V486.8" stroke="#555" stroke-width="0.9"/>
<text x="172.32" y="498.3" font-size="9.4" text-anchor="middle" fill="#333">V</text>
<path d="M200.55 483.6V486.8" stroke="#555" stroke-width="0.9"/>
<text x="200.25" y="498.3" font-size="9.4" text-anchor="middle" fill="#333">VI</text>
<text x="126.6" y="357.2" font-size="10.6" text-anchor="middle" fill="#333" textLength="108.6" lengthAdjust="spacingAndGlyphs">Central North America</text>
<text x="0.2" y="355.4" font-size="14.5" font-weight="bold" fill="#000">g</text>
<text transform="translate(14.6 422.45) rotate(-90)" x="0" y="0" font-size="10.2" text-anchor="middle" fill="#333"><tspan font-style="italic">P</tspan> (mm yr<tspan font-size="7.2" dy="-4.3">−1</tspan><tspan dy="4.3">)</tspan></text>
<rect x="286.7" y="394.13" width="9.6" height="89.37" fill="#ff826c"/>
<rect x="295.7" y="393.01" width="9.15" height="90.49" fill="#edab95"/>
<rect x="314.63" y="392.89" width="9.6" height="90.61" fill="#ff826c"/>
<rect x="323.63" y="392.02" width="9.15" height="91.48" fill="#edab95"/>
<rect x="342.56" y="392.27" width="9.6" height="91.23" fill="#ff826c"/>
<rect x="351.56" y="392.27" width="9.15" height="91.23" fill="#edab95"/>
<rect x="370.49" y="391.77" width="9.6" height="91.73" fill="#ff826c"/>
<rect x="379.49" y="392.89" width="9.15" height="90.61" fill="#edab95"/>
<rect x="398.42" y="390.16" width="9.6" height="93.34" fill="#ff826c"/>
<rect x="407.42" y="392.27" width="9.15" height="91.23" fill="#edab95"/>
<rect x="426.35" y="390.41" width="9.6" height="93.09" fill="#ff826c"/>
<rect x="435.35" y="393.01" width="9.15" height="90.49" fill="#edab95"/>
<path d="M291.25 383.34V405.67" stroke="#000" stroke-opacity="0.7" stroke-width="1" fill="none"/>
<path d="M286.35 383.34H296.15" stroke="#000" stroke-opacity="0.7" stroke-width="1" fill="none"/>
<path d="M286.35 405.67H296.15" stroke="#000" stroke-opacity="0.75" stroke-width="1" fill="none"/>
<circle cx="291.25" cy="368.69" r="1.7" fill="#000" fill-opacity="0.45"/>
<circle cx="291.25" cy="379.61" r="1.7" fill="#000" fill-opacity="0.45"/>
<circle cx="291.25" cy="386.69" r="1.7" fill="#000" fill-opacity="0.45"/>
<circle cx="291.25" cy="401.95" r="1.7" fill="#000" fill-opacity="0.55"/>
<circle cx="291.25" cy="405.67" r="1.7" fill="#000" fill-opacity="0.55"/>
<circle cx="291.25" cy="407.53" r="1.7" fill="#000" fill-opacity="0.55"/>
<path d="M300.2 382.34V405.3" stroke="#000" stroke-opacity="0.7" stroke-width="1" fill="none"/>
<path d="M295.3 382.34H305.1" stroke="#000" stroke-opacity="0.7" stroke-width="1" fill="none"/>
<path d="M295.3 405.3H305.1" stroke="#000" stroke-opacity="0.75" stroke-width="1" fill="none"/>
<circle cx="300.2" cy="371.55" r="1.7" fill="#000" fill-opacity="0.45"/>
<circle cx="300.2" cy="379.61" r="1.7" fill="#000" fill-opacity="0.45"/>
<circle cx="300.2" cy="386.19" r="1.7" fill="#000" fill-opacity="0.45"/>
<circle cx="300.2" cy="391.15" r="1.7" fill="#000" fill-opacity="0.45"/>
<circle cx="300.2" cy="405.67" r="1.7" fill="#000" fill-opacity="0.55"/>
<circle cx="300.2" cy="407.53" r="1.7" fill="#000" fill-opacity="0.55"/>
<path d="M319.18 379.36V405.42" stroke="#000" stroke-opacity="0.7" stroke-width="1" fill="none"/>
<path d="M314.28 379.36H324.08" stroke="#000" stroke-opacity="0.7" stroke-width="1" fill="none"/>
<path d="M314.28 405.42H324.08" stroke="#000" stroke-opacity="0.75" stroke-width="1" fill="none"/>
<circle cx="319.18" cy="369.31" r="1.7" fill="#000" fill-opacity="0.45"/>
<circle cx="319.18" cy="375.89" r="1.7" fill="#000" fill-opacity="0.45"/>
<circle cx="319.18" cy="383.34" r="1.7" fill="#000" fill-opacity="0.45"/>
<circle cx="319.18" cy="400.96" r="1.7" fill="#000" fill-opacity="0.55"/>
<circle cx="319.18" cy="405.05" r="1.7" fill="#000" fill-opacity="0.55"/>
<circle cx="319.18" cy="407.53" r="1.7" fill="#000" fill-opacity="0.55"/>
<path d="M328.13 380.23V405.42" stroke="#000" stroke-opacity="0.7" stroke-width="1" fill="none"/>
<path d="M323.23 380.23H333.03" stroke="#000" stroke-opacity="0.28" stroke-width="1.4" fill="none"/>
<path d="M323.23 405.42H333.03" stroke="#000" stroke-opacity="0.75" stroke-width="1" fill="none"/>
<circle cx="328.13" cy="369.31" r="1.7" fill="#000" fill-opacity="0.45"/>
<circle cx="328.13" cy="375.89" r="1.7" fill="#000" fill-opacity="0.45"/>
<circle cx="328.13" cy="383.34" r="1.7" fill="#000" fill-opacity="0.45"/>
<circle cx="328.13" cy="393.51" r="1.7" fill="#000" fill-opacity="0.55"/>
<circle cx="328.13" cy="405.67" r="1.7" fill="#000" fill-opacity="0.55"/>
<circle cx="328.13" cy="408.15" r="1.7" fill="#000" fill-opacity="0.55"/>
<path d="M347.11 378.99V405.42" stroke="#000" stroke-opacity="0.7" stroke-width="1" fill="none"/>
<path d="M342.21 378.99H352.01" stroke="#000" stroke-opacity="0.28" stroke-width="1.4" fill="none"/>
<path d="M342.21 405.42H352.01" stroke="#000" stroke-opacity="0.75" stroke-width="1" fill="none"/>
<circle cx="347.11" cy="369.07" r="1.7" fill="#000" fill-opacity="0.45"/>
<circle cx="347.11" cy="373.78" r="1.7" fill="#000" fill-opacity="0.45"/>
<circle cx="347.11" cy="383.96" r="1.7" fill="#000" fill-opacity="0.45"/>
<circle cx="347.11" cy="403.81" r="1.7" fill="#000" fill-opacity="0.55"/>
<circle cx="347.11" cy="405.67" r="1.7" fill="#000" fill-opacity="0.55"/>
<path d="M356.06 381.23V404.43" stroke="#000" stroke-opacity="0.7" stroke-width="1" fill="none"/>
<path d="M351.16 381.23H360.96" stroke="#000" stroke-opacity="0.7" stroke-width="1" fill="none"/>
<path d="M351.16 404.43H360.96" stroke="#000" stroke-opacity="0.75" stroke-width="1" fill="none"/>
<circle cx="356.06" cy="369.31" r="1.7" fill="#000" fill-opacity="0.45"/>
<circle cx="356.06" cy="376.88" r="1.7" fill="#000" fill-opacity="0.45"/>
<circle cx="356.06" cy="385.82" r="1.7" fill="#000" fill-opacity="0.45"/>
<circle cx="356.06" cy="395.74" r="1.7" fill="#000" fill-opacity="0.55"/>
<circle cx="356.06" cy="403.19" r="1.7" fill="#000" fill-opacity="0.55"/>
<circle cx="356.06" cy="406.91" r="1.7" fill="#000" fill-opacity="0.55"/>
<path d="M375.04 378.99V404.43" stroke="#000" stroke-opacity="0.7" stroke-width="1" fill="none"/>
<path d="M370.14 378.99H379.94" stroke="#000" stroke-opacity="0.28" stroke-width="1.4" fill="none"/>
<path d="M370.14 404.43H379.94" stroke="#000" stroke-opacity="0.75" stroke-width="1" fill="none"/>
<circle cx="375.04" cy="368.07" r="1.7" fill="#000" fill-opacity="0.45"/>
<circle cx="375.04" cy="374.28" r="1.7" fill="#000" fill-opacity="0.45"/>
<circle cx="375.04" cy="382.34" r="1.7" fill="#000" fill-opacity="0.45"/>
<circle cx="375.04" cy="402.57" r="1.7" fill="#000" fill-opacity="0.55"/>
<circle cx="375.04" cy="404.43" r="1.7" fill="#000" fill-opacity="0.55"/>
<circle cx="375.04" cy="405.42" r="1.7" fill="#000" fill-opacity="0.55"/>
<path d="M383.99 381.72V405.05" stroke="#000" stroke-opacity="0.7" stroke-width="1" fill="none"/>
<path d="M379.09 381.72H388.89" stroke="#000" stroke-opacity="0.7" stroke-width="1" fill="none"/>
<path d="M379.09 405.05H388.89" stroke="#000" stroke-opacity="0.75" stroke-width="1" fill="none"/>
<circle cx="383.99" cy="370.93" r="1.7" fill="#000" fill-opacity="0.45"/>
<circle cx="383.99" cy="375.89" r="1.7" fill="#000" fill-opacity="0.45"/>
<circle cx="383.99" cy="386.19" r="1.7" fill="#000" fill-opacity="0.45"/>
<circle cx="383.99" cy="396.61" r="1.7" fill="#000" fill-opacity="0.55"/>
<circle cx="383.99" cy="404.68" r="1.7" fill="#000" fill-opacity="0.55"/>
<circle cx="383.99" cy="407.53" r="1.7" fill="#000" fill-opacity="0.55"/>
<path d="M402.97 377.38V402.32" stroke="#000" stroke-opacity="0.7" stroke-width="1" fill="none"/>
<path d="M398.07 377.38H407.87" stroke="#000" stroke-opacity="0.7" stroke-width="1" fill="none"/>
<path d="M398.07 402.32H407.87" stroke="#000" stroke-opacity="0.75" stroke-width="1" fill="none"/>
<circle cx="402.97" cy="367.45" r="1.7" fill="#000" fill-opacity="0.45"/>
<circle cx="402.97" cy="372.42" r="1.7" fill="#000" fill-opacity="0.45"/>
<circle cx="402.97" cy="381.85" r="1.7" fill="#000" fill-opacity="0.45"/>
<circle cx="402.97" cy="401.33" r="1.7" fill="#000" fill-opacity="0.55"/>
<circle cx="402.97" cy="402.94" r="1.7" fill="#000" fill-opacity="0.55"/>
<path d="M411.92 381.47V404.43" stroke="#000" stroke-opacity="0.7" stroke-width="1" fill="none"/>
<path d="M407.02 381.47H416.82" stroke="#000" stroke-opacity="0.7" stroke-width="1" fill="none"/>
<path d="M407.02 404.43H416.82" stroke="#000" stroke-opacity="0.75" stroke-width="1" fill="none"/>
<circle cx="411.92" cy="374.28" r="1.85" fill="#000" fill-opacity="0.82"/>
<circle cx="411.92" cy="387.43" r="1.7" fill="#000" fill-opacity="0.45"/>
<circle cx="411.92" cy="393.51" r="1.7" fill="#000" fill-opacity="0.55"/>
<circle cx="411.92" cy="405.05" r="1.7" fill="#000" fill-opacity="0.55"/>
<circle cx="411.92" cy="406.29" r="1.7" fill="#000" fill-opacity="0.55"/>
<path d="M430.9 376.76V403.44" stroke="#000" stroke-opacity="0.7" stroke-width="1" fill="none"/>
<path d="M426 376.76H435.8" stroke="#000" stroke-opacity="0.7" stroke-width="1" fill="none"/>
<path d="M426 403.44H435.8" stroke="#000" stroke-opacity="0.75" stroke-width="1" fill="none"/>
<circle cx="430.9" cy="366.83" r="1.7" fill="#000" fill-opacity="0.45"/>
<circle cx="430.9" cy="369.31" r="1.7" fill="#000" fill-opacity="0.45"/>
<circle cx="430.9" cy="381.85" r="1.7" fill="#000" fill-opacity="0.45"/>
<circle cx="430.9" cy="401.95" r="1.7" fill="#000" fill-opacity="0.55"/>
<circle cx="430.9" cy="403.81" r="1.7" fill="#000" fill-opacity="0.55"/>
<path d="M439.85 381.23V405.42" stroke="#000" stroke-opacity="0.7" stroke-width="1" fill="none"/>
<path d="M434.95 381.23H444.75" stroke="#000" stroke-opacity="0.7" stroke-width="1" fill="none"/>
<path d="M434.95 405.42H444.75" stroke="#000" stroke-opacity="0.75" stroke-width="1" fill="none"/>
<circle cx="439.85" cy="371.55" r="1.7" fill="#000" fill-opacity="0.45"/>
<circle cx="439.85" cy="375.27" r="1.7" fill="#000" fill-opacity="0.45"/>
<circle cx="439.85" cy="386.44" r="1.7" fill="#000" fill-opacity="0.45"/>
<circle cx="439.85" cy="395.74" r="1.7" fill="#000" fill-opacity="0.55"/>
<circle cx="439.85" cy="404.68" r="1.7" fill="#000" fill-opacity="0.55"/>
<circle cx="439.85" cy="407.53" r="1.7" fill="#000" fill-opacity="0.55"/>
<rect x="282.45" y="361.3" width="167.65" height="122.3" fill="none" stroke="#7f7f7f" stroke-width="1.1"/>
<path d="M279.85 483.5H282.45" stroke="#555" stroke-width="0.9"/>
<text x="276.05" y="486.7" font-size="9.0" text-anchor="end" fill="#333" textLength="5.55" lengthAdjust="spacingAndGlyphs">0</text>
<path d="M279.85 449.97H282.45" stroke="#555" stroke-width="0.9"/>
<text x="276.05" y="453.17" font-size="9.0" text-anchor="end" fill="#333" textLength="16.65" lengthAdjust="spacingAndGlyphs">200</text>
<path d="M279.85 416.43H282.45" stroke="#555" stroke-width="0.9"/>
<text x="276.05" y="419.63" font-size="9.0" text-anchor="end" fill="#333" textLength="16.65" lengthAdjust="spacingAndGlyphs">400</text>
<path d="M279.85 382.9H282.45" stroke="#555" stroke-width="0.9"/>
<text x="276.05" y="386.1" font-size="9.0" text-anchor="end" fill="#333" textLength="16.65" lengthAdjust="spacingAndGlyphs">600</text>
<path d="M295.7 483.6V486.8" stroke="#555" stroke-width="0.9"/>
<text x="295.4" y="498.3" font-size="9.4" text-anchor="middle" fill="#333">I</text>
<path d="M323.63 483.6V486.8" stroke="#555" stroke-width="0.9"/>
<text x="323.33" y="498.3" font-size="9.4" text-anchor="middle" fill="#333">II</text>
<path d="M351.56 483.6V486.8" stroke="#555" stroke-width="0.9"/>
<text x="351.26" y="498.3" font-size="9.4" text-anchor="middle" fill="#333">III</text>
<path d="M379.49 483.6V486.8" stroke="#555" stroke-width="0.9"/>
<text x="379.19" y="498.3" font-size="9.4" text-anchor="middle" fill="#333">IV</text>
<path d="M407.42 483.6V486.8" stroke="#555" stroke-width="0.9"/>
<text x="407.12" y="498.3" font-size="9.4" text-anchor="middle" fill="#333">V</text>
<path d="M435.35 483.6V486.8" stroke="#555" stroke-width="0.9"/>
<text x="435.05" y="498.3" font-size="9.4" text-anchor="middle" fill="#333">VI</text>
<text x="361.9" y="357.2" font-size="10.6" text-anchor="middle" fill="#333" textLength="108.6" lengthAdjust="spacingAndGlyphs">Central North America</text>
<text x="241.4" y="355.4" font-size="14.5" font-weight="bold" fill="#000">h</text>
<text transform="translate(250.8 422.45) rotate(-90)" x="0" y="0" font-size="10.2" text-anchor="middle" fill="#333">ET (mm yr<tspan font-size="7.2" dy="-4.3">−1</tspan><tspan dy="4.3">)</tspan></text>
<rect x="521.1" y="421.1" width="9.6" height="62.5" fill="#33ff33"/>
<rect x="530.1" y="422" width="9.15" height="61.6" fill="#a6f1a6"/>
<rect x="549.03" y="421.64" width="9.6" height="61.96" fill="#33ff33"/>
<rect x="558.03" y="420.19" width="9.15" height="63.41" fill="#a6f1a6"/>
<rect x="576.96" y="422.91" width="9.6" height="60.69" fill="#33ff33"/>
<rect x="585.96" y="424" width="9.15" height="59.6" fill="#a6f1a6"/>
<rect x="604.89" y="427.07" width="9.6" height="56.53" fill="#33ff33"/>
<rect x="613.89" y="425.26" width="9.15" height="58.34" fill="#a6f1a6"/>
<rect x="632.82" y="423.45" width="9.6" height="60.15" fill="#33ff33"/>
<rect x="641.82" y="423.45" width="9.15" height="60.15" fill="#a6f1a6"/>
<rect x="660.75" y="430.15" width="9.6" height="53.45" fill="#33ff33"/>
<rect x="669.75" y="433.05" width="9.15" height="50.55" fill="#a6f1a6"/>
<path d="M525.65 409.33V426.17" stroke="#000" stroke-opacity="0.7" stroke-width="1" fill="none"/>
<path d="M520.75 409.33H530.55" stroke="#000" stroke-opacity="0.7" stroke-width="1" fill="none"/>
<path d="M520.75 426.17H530.55" stroke="#000" stroke-opacity="0.75" stroke-width="1" fill="none"/>
<circle cx="525.65" cy="392.14" r="1.7" fill="#000" fill-opacity="0.45"/>
<circle cx="525.65" cy="415.31" r="1.7" fill="#000" fill-opacity="0.45"/>
<circle cx="525.65" cy="417.12" r="1.7" fill="#000" fill-opacity="0.45"/>
<circle cx="525.65" cy="418.93" r="1.7" fill="#000" fill-opacity="0.45"/>
<circle cx="525.65" cy="466.9" r="1.7" fill="#000" fill-opacity="0.55"/>
<path d="M534.6 409.88V429.43" stroke="#000" stroke-opacity="0.7" stroke-width="1" fill="none"/>
<path d="M529.7 409.88H539.5" stroke="#000" stroke-opacity="0.7" stroke-width="1" fill="none"/>
<path d="M529.7 429.43H539.5" stroke="#000" stroke-opacity="0.75" stroke-width="1" fill="none"/>
<circle cx="534.6" cy="386.89" r="1.7" fill="#000" fill-opacity="0.45"/>
<circle cx="534.6" cy="414.4" r="1.7" fill="#000" fill-opacity="0.45"/>
<circle cx="534.6" cy="416.21" r="1.7" fill="#000" fill-opacity="0.45"/>
<circle cx="534.6" cy="419.83" r="1.7" fill="#000" fill-opacity="0.45"/>
<circle cx="534.6" cy="428.88" r="1.7" fill="#000" fill-opacity="0.55"/>
<circle cx="534.6" cy="466.9" r="1.7" fill="#000" fill-opacity="0.55"/>
<path d="M553.58 411.32V430.33" stroke="#000" stroke-opacity="0.7" stroke-width="1" fill="none"/>
<path d="M548.68 411.32H558.48" stroke="#000" stroke-opacity="0.7" stroke-width="1" fill="none"/>
<path d="M548.68 430.33H558.48" stroke="#000" stroke-opacity="0.75" stroke-width="1" fill="none"/>
<circle cx="553.58" cy="381.46" r="1.7" fill="#000" fill-opacity="0.45"/>
<circle cx="553.58" cy="410.78" r="1.7" fill="#000" fill-opacity="0.45"/>
<circle cx="553.58" cy="418.56" r="1.7" fill="#000" fill-opacity="0.45"/>
<circle cx="553.58" cy="423.45" r="1.7" fill="#000" fill-opacity="0.55"/>
<circle cx="553.58" cy="429.79" r="1.7" fill="#000" fill-opacity="0.55"/>
<circle cx="553.58" cy="464.18" r="1.7" fill="#000" fill-opacity="0.55"/>
<path d="M562.53 411.69V429.25" stroke="#000" stroke-opacity="0.7" stroke-width="1" fill="none"/>
<path d="M557.63 411.69H567.43" stroke="#000" stroke-opacity="0.7" stroke-width="1" fill="none"/>
<path d="M557.63 429.25H567.43" stroke="#000" stroke-opacity="0.75" stroke-width="1" fill="none"/>
<circle cx="562.53" cy="367.34" r="1.7" fill="#000" fill-opacity="0.45"/>
<circle cx="562.53" cy="410.78" r="1.7" fill="#000" fill-opacity="0.45"/>
<circle cx="562.53" cy="417.12" r="1.7" fill="#000" fill-opacity="0.45"/>
<circle cx="562.53" cy="422.55" r="1.7" fill="#000" fill-opacity="0.55"/>
<circle cx="562.53" cy="427.07" r="1.7" fill="#000" fill-opacity="0.55"/>
<circle cx="562.53" cy="467.44" r="1.7" fill="#000" fill-opacity="0.55"/>
<path d="M581.51 411.32V435.22" stroke="#000" stroke-opacity="0.7" stroke-width="1" fill="none"/>
<path d="M576.61 411.32H586.41" stroke="#000" stroke-opacity="0.7" stroke-width="1" fill="none"/>
<path d="M576.61 435.22H586.41" stroke="#000" stroke-opacity="0.75" stroke-width="1" fill="none"/>
<circle cx="581.51" cy="374.03" r="1.7" fill="#000" fill-opacity="0.45"/>
<circle cx="581.51" cy="408.61" r="1.7" fill="#000" fill-opacity="0.45"/>
<circle cx="581.51" cy="424.36" r="1.7" fill="#000" fill-opacity="0.55"/>
<circle cx="581.51" cy="426.17" r="1.7" fill="#000" fill-opacity="0.55"/>
<circle cx="581.51" cy="435.22" r="1.7" fill="#000" fill-opacity="0.55"/>
<circle cx="581.51" cy="465.45" r="1.7" fill="#000" fill-opacity="0.55"/>
<path d="M590.46 413.5V432.14" stroke="#000" stroke-opacity="0.7" stroke-width="1" fill="none"/>
<path d="M585.56 413.5H595.36" stroke="#000" stroke-opacity="0.7" stroke-width="1" fill="none"/>
<path d="M585.56 432.14H595.36" stroke="#000" stroke-opacity="0.75" stroke-width="1" fill="none"/>
<circle cx="590.46" cy="383.27" r="1.7" fill="#000" fill-opacity="0.45"/>
<circle cx="590.46" cy="412.05" r="1.7" fill="#000" fill-opacity="0.45"/>
<circle cx="590.46" cy="421.64" r="1.7" fill="#000" fill-opacity="0.45"/>
<circle cx="590.46" cy="425.81" r="1.7" fill="#000" fill-opacity="0.55"/>
<circle cx="590.46" cy="431.6" r="1.7" fill="#000" fill-opacity="0.55"/>
<circle cx="590.46" cy="468.35" r="1.7" fill="#000" fill-opacity="0.55"/>
<path d="M609.44 420.38V437.03" stroke="#000" stroke-opacity="0.7" stroke-width="1" fill="none"/>
<path d="M604.54 420.38H614.34" stroke="#000" stroke-opacity="0.7" stroke-width="1" fill="none"/>
<path d="M604.54 437.03H614.34" stroke="#000" stroke-opacity="0.75" stroke-width="1" fill="none"/>
<circle cx="609.44" cy="379.46" r="1.7" fill="#000" fill-opacity="0.45"/>
<circle cx="609.44" cy="416.21" r="1.7" fill="#000" fill-opacity="0.45"/>
<circle cx="609.44" cy="429.79" r="1.7" fill="#000" fill-opacity="0.55"/>
<circle cx="609.44" cy="431.24" r="1.7" fill="#000" fill-opacity="0.55"/>
<circle cx="609.44" cy="437.03" r="1.7" fill="#000" fill-opacity="0.55"/>
<circle cx="609.44" cy="463.64" r="1.7" fill="#000" fill-opacity="0.55"/>
<path d="M618.39 414.76V435.22" stroke="#000" stroke-opacity="0.7" stroke-width="1" fill="none"/>
<path d="M613.49 414.76H623.29" stroke="#000" stroke-opacity="0.7" stroke-width="1" fill="none"/>
<path d="M613.49 435.22H623.29" stroke="#000" stroke-opacity="0.75" stroke-width="1" fill="none"/>
<circle cx="618.39" cy="382.72" r="1.7" fill="#000" fill-opacity="0.45"/>
<circle cx="618.39" cy="411.69" r="1.7" fill="#000" fill-opacity="0.45"/>
<circle cx="618.39" cy="421.28" r="1.7" fill="#000" fill-opacity="0.45"/>
<circle cx="618.39" cy="426.53" r="1.7" fill="#000" fill-opacity="0.55"/>
<circle cx="618.39" cy="433.41" r="1.7" fill="#000" fill-opacity="0.55"/>
<circle cx="618.39" cy="468.71" r="1.7" fill="#000" fill-opacity="0.55"/>
<path d="M637.37 414.94V436.12" stroke="#000" stroke-opacity="0.7" stroke-width="1" fill="none"/>
<path d="M632.47 414.94H642.27" stroke="#000" stroke-opacity="0.7" stroke-width="1" fill="none"/>
<path d="M632.47 436.12H642.27" stroke="#000" stroke-opacity="0.75" stroke-width="1" fill="none"/>
<circle cx="637.37" cy="374.58" r="1.7" fill="#000" fill-opacity="0.45"/>
<circle cx="637.37" cy="409.33" r="1.7" fill="#000" fill-opacity="0.45"/>
<circle cx="637.37" cy="423.45" r="1.7" fill="#000" fill-opacity="0.45"/>
<circle cx="637.37" cy="426.17" r="1.7" fill="#000" fill-opacity="0.55"/>
<circle cx="637.37" cy="432.5" r="1.7" fill="#000" fill-opacity="0.55"/>
<circle cx="637.37" cy="434.31" r="1.7" fill="#000" fill-opacity="0.55"/>
<circle cx="637.37" cy="463.28" r="1.7" fill="#000" fill-opacity="0.55"/>
<path d="M646.32 413.5V433.41" stroke="#000" stroke-opacity="0.7" stroke-width="1" fill="none"/>
<path d="M641.42 413.5H651.22" stroke="#000" stroke-opacity="0.7" stroke-width="1" fill="none"/>
<path d="M641.42 433.41H651.22" stroke="#000" stroke-opacity="0.75" stroke-width="1" fill="none"/>
<circle cx="646.32" cy="379.46" r="1.7" fill="#000" fill-opacity="0.45"/>
<circle cx="646.32" cy="408.61" r="1.7" fill="#000" fill-opacity="0.45"/>
<circle cx="646.32" cy="423.45" r="1.7" fill="#000" fill-opacity="0.45"/>
<circle cx="646.32" cy="428.34" r="1.7" fill="#000" fill-opacity="0.55"/>
<circle cx="646.32" cy="433.41" r="1.7" fill="#000" fill-opacity="0.55"/>
<circle cx="646.32" cy="467.8" r="1.7" fill="#000" fill-opacity="0.55"/>
<path d="M665.3 420.38V446.08" stroke="#000" stroke-opacity="0.7" stroke-width="1" fill="none"/>
<path d="M660.4 420.38H670.2" stroke="#000" stroke-opacity="0.7" stroke-width="1" fill="none"/>
<path d="M660.4 446.08H670.2" stroke="#000" stroke-opacity="0.75" stroke-width="1" fill="none"/>
<circle cx="665.3" cy="372.22" r="1.7" fill="#000" fill-opacity="0.45"/>
<circle cx="665.3" cy="408.43" r="1.7" fill="#000" fill-opacity="0.45"/>
<circle cx="665.3" cy="437.03" r="1.7" fill="#000" fill-opacity="0.55"/>
<circle cx="665.3" cy="439.74" r="1.7" fill="#000" fill-opacity="0.55"/>
<circle cx="665.3" cy="443.36" r="1.7" fill="#000" fill-opacity="0.55"/>
<circle cx="665.3" cy="464.73" r="1.7" fill="#000" fill-opacity="0.55"/>
<path d="M674.25 424.72V444.27" stroke="#000" stroke-opacity="0.7" stroke-width="1" fill="none"/>
<path d="M669.35 424.72H679.15" stroke="#000" stroke-opacity="0.7" stroke-width="1" fill="none"/>
<path d="M669.35 444.27H679.15" stroke="#000" stroke-opacity="0.75" stroke-width="1" fill="none"/>
<circle cx="674.25" cy="384.17" r="1.7" fill="#000" fill-opacity="0.45"/>
<circle cx="674.25" cy="418.02" r="1.7" fill="#000" fill-opacity="0.45"/>
<circle cx="674.25" cy="436.12" r="1.7" fill="#000" fill-opacity="0.55"/>
<circle cx="674.25" cy="438.84" r="1.7" fill="#000" fill-opacity="0.55"/>
<circle cx="674.25" cy="440.65" r="1.7" fill="#000" fill-opacity="0.55"/>
<circle cx="674.25" cy="469.98" r="1.7" fill="#000" fill-opacity="0.55"/>
<rect x="517.35" y="361.3" width="167.15" height="122.3" fill="none" stroke="#7f7f7f" stroke-width="1.1"/>
<path d="M514.75 483.6H517.35" stroke="#555" stroke-width="0.9"/>
<text x="510.95" y="486.8" font-size="9.0" text-anchor="end" fill="#333" textLength="5.55" lengthAdjust="spacingAndGlyphs">0</text>
<path d="M514.75 456.3H517.35" stroke="#555" stroke-width="0.9"/>
<text x="510.95" y="459.5" font-size="9.0" text-anchor="end" fill="#333" textLength="11.1" lengthAdjust="spacingAndGlyphs">50</text>
<path d="M514.75 429H517.35" stroke="#555" stroke-width="0.9"/>
<text x="510.95" y="432.2" font-size="9.0" text-anchor="end" fill="#333" textLength="16.65" lengthAdjust="spacingAndGlyphs">100</text>
<path d="M514.75 401.7H517.35" stroke="#555" stroke-width="0.9"/>
<text x="510.95" y="404.9" font-size="9.0" text-anchor="end" fill="#333" textLength="16.65" lengthAdjust="spacingAndGlyphs">150</text>
<path d="M514.75 374.4H517.35" stroke="#555" stroke-width="0.9"/>
<text x="510.95" y="377.6" font-size="9.0" text-anchor="end" fill="#333" textLength="16.65" lengthAdjust="spacingAndGlyphs">200</text>
<path d="M530.1 483.6V486.8" stroke="#555" stroke-width="0.9"/>
<text x="529.8" y="498.3" font-size="9.4" text-anchor="middle" fill="#333">I</text>
<path d="M558.03 483.6V486.8" stroke="#555" stroke-width="0.9"/>
<text x="557.73" y="498.3" font-size="9.4" text-anchor="middle" fill="#333">II</text>
<path d="M585.96 483.6V486.8" stroke="#555" stroke-width="0.9"/>
<text x="585.66" y="498.3" font-size="9.4" text-anchor="middle" fill="#333">III</text>
<path d="M613.89 483.6V486.8" stroke="#555" stroke-width="0.9"/>
<text x="613.59" y="498.3" font-size="9.4" text-anchor="middle" fill="#333">IV</text>
<path d="M641.82 483.6V486.8" stroke="#555" stroke-width="0.9"/>
<text x="641.52" y="498.3" font-size="9.4" text-anchor="middle" fill="#333">V</text>
<path d="M669.75 483.6V486.8" stroke="#555" stroke-width="0.9"/>
<text x="669.45" y="498.3" font-size="9.4" text-anchor="middle" fill="#333">VI</text>
<text x="603.6" y="357.2" font-size="10.6" text-anchor="middle" fill="#333" textLength="108.6" lengthAdjust="spacingAndGlyphs">Central North America</text>
<text x="469.9" y="355.4" font-size="14.5" font-weight="bold" fill="#000">i</text>
<text transform="translate(485.9 422.45) rotate(-90)" x="0" y="0" font-size="10.2" text-anchor="middle" fill="#333"><tspan font-style="italic">R</tspan> (mm yr<tspan font-size="7.2" dy="-4.3">−1</tspan><tspan dy="4.3">)</tspan></text>
<rect x="51.9" y="579.16" width="9.6" height="76.04" fill="#4ba6ff"/>
<rect x="60.9" y="579.16" width="9.15" height="76.04" fill="#33ffff"/>
<rect x="79.83" y="576.06" width="9.6" height="79.14" fill="#4ba6ff"/>
<rect x="88.83" y="577.92" width="9.15" height="77.28" fill="#33ffff"/>
<rect x="107.76" y="576.68" width="9.6" height="78.52" fill="#4ba6ff"/>
<rect x="116.76" y="579.16" width="9.15" height="76.04" fill="#33ffff"/>
<rect x="135.69" y="576.43" width="9.6" height="78.77" fill="#4ba6ff"/>
<rect x="144.69" y="578.29" width="9.15" height="76.91" fill="#33ffff"/>
<rect x="163.62" y="576.06" width="9.6" height="79.14" fill="#4ba6ff"/>
<rect x="172.62" y="577.42" width="9.15" height="77.78" fill="#33ffff"/>
<rect x="191.55" y="574.32" width="9.6" height="80.88" fill="#4ba6ff"/>
<rect x="200.55" y="579.16" width="9.15" height="76.04" fill="#33ffff"/>
<path d="M56.45 564.39V592.56" stroke="#000" stroke-opacity="0.7" stroke-width="1" fill="none"/>
<path d="M51.55 564.39H61.35" stroke="#000" stroke-opacity="0.7" stroke-width="1" fill="none"/>
<path d="M51.55 592.56H61.35" stroke="#000" stroke-opacity="0.75" stroke-width="1" fill="none"/>
<circle cx="56.45" cy="548.51" r="1.7" fill="#000" fill-opacity="0.45"/>
<circle cx="56.45" cy="563.4" r="1.7" fill="#000" fill-opacity="0.45"/>
<circle cx="56.45" cy="590.08" r="1.7" fill="#000" fill-opacity="0.55"/>
<circle cx="56.45" cy="597.15" r="1.7" fill="#000" fill-opacity="0.55"/>
<circle cx="56.45" cy="598.39" r="1.7" fill="#000" fill-opacity="0.55"/>
<path d="M65.4 564.39V594.05" stroke="#000" stroke-opacity="0.7" stroke-width="1" fill="none"/>
<path d="M60.5 564.39H70.3" stroke="#000" stroke-opacity="0.7" stroke-width="1" fill="none"/>
<path d="M60.5 594.05H70.3" stroke="#000" stroke-opacity="0.75" stroke-width="1" fill="none"/>
<circle cx="65.4" cy="550.37" r="1.7" fill="#000" fill-opacity="0.45"/>
<circle cx="65.4" cy="561.79" r="1.7" fill="#000" fill-opacity="0.45"/>
<circle cx="65.4" cy="566.75" r="1.7" fill="#000" fill-opacity="0.45"/>
<circle cx="65.4" cy="587.6" r="1.7" fill="#000" fill-opacity="0.55"/>
<circle cx="65.4" cy="593.8" r="1.7" fill="#000" fill-opacity="0.55"/>
<circle cx="65.4" cy="595.66" r="1.7" fill="#000" fill-opacity="0.55"/>
<circle cx="65.4" cy="597.28" r="1.7" fill="#000" fill-opacity="0.55"/>
<path d="M84.38 558.19V591.32" stroke="#000" stroke-opacity="0.7" stroke-width="1" fill="none"/>
<path d="M79.48 558.19H89.28" stroke="#000" stroke-opacity="0.7" stroke-width="1" fill="none"/>
<path d="M79.48 591.32H89.28" stroke="#000" stroke-opacity="0.75" stroke-width="1" fill="none"/>
<circle cx="84.38" cy="550.99" r="1.7" fill="#000" fill-opacity="0.45"/>
<circle cx="84.38" cy="553.47" r="1.7" fill="#000" fill-opacity="0.45"/>
<circle cx="84.38" cy="558.44" r="1.7" fill="#000" fill-opacity="0.45"/>
<circle cx="84.38" cy="585.12" r="1.7" fill="#000" fill-opacity="0.55"/>
<circle cx="84.38" cy="590.08" r="1.7" fill="#000" fill-opacity="0.55"/>
<circle cx="84.38" cy="594.18" r="1.7" fill="#000" fill-opacity="0.55"/>
<circle cx="84.38" cy="598.39" r="1.7" fill="#000" fill-opacity="0.55"/>
<path d="M93.33 563.15V591.32" stroke="#000" stroke-opacity="0.7" stroke-width="1" fill="none"/>
<path d="M88.43 563.15H98.23" stroke="#000" stroke-opacity="0.7" stroke-width="1" fill="none"/>
<path d="M88.43 591.32H98.23" stroke="#000" stroke-opacity="0.75" stroke-width="1" fill="none"/>
<circle cx="93.33" cy="549.13" r="1.7" fill="#000" fill-opacity="0.45"/>
<circle cx="93.33" cy="558.69" r="1.7" fill="#000" fill-opacity="0.45"/>
<circle cx="93.33" cy="566.75" r="1.7" fill="#000" fill-opacity="0.45"/>
<circle cx="93.33" cy="586.61" r="1.7" fill="#000" fill-opacity="0.55"/>
<circle cx="93.33" cy="589.83" r="1.7" fill="#000" fill-opacity="0.55"/>
<circle cx="93.33" cy="593.55" r="1.7" fill="#000" fill-opacity="0.55"/>
<circle cx="93.33" cy="599.39" r="1.7" fill="#000" fill-opacity="0.55"/>
<path d="M112.31 560.92V591.32" stroke="#000" stroke-opacity="0.7" stroke-width="1" fill="none"/>
<path d="M107.41 560.92H117.21" stroke="#000" stroke-opacity="0.7" stroke-width="1" fill="none"/>
<path d="M107.41 591.32H117.21" stroke="#000" stroke-opacity="0.75" stroke-width="1" fill="none"/>
<circle cx="112.31" cy="548.51" r="1.7" fill="#000" fill-opacity="0.45"/>
<circle cx="112.31" cy="558.07" r="1.7" fill="#000" fill-opacity="0.45"/>
<circle cx="112.31" cy="561.54" r="1.7" fill="#000" fill-opacity="0.45"/>
<circle cx="112.31" cy="586.36" r="1.7" fill="#000" fill-opacity="0.55"/>
<circle cx="112.31" cy="593.18" r="1.7" fill="#000" fill-opacity="0.55"/>
<circle cx="112.31" cy="600.63" r="1.7" fill="#000" fill-opacity="0.55"/>
<path d="M121.26 565.88V593.43" stroke="#000" stroke-opacity="0.7" stroke-width="1" fill="none"/>
<path d="M116.36 565.88H126.16" stroke="#000" stroke-opacity="0.7" stroke-width="1" fill="none"/>
<path d="M116.36 593.43H126.16" stroke="#000" stroke-opacity="0.75" stroke-width="1" fill="none"/>
<circle cx="121.26" cy="548.51" r="1.7" fill="#000" fill-opacity="0.45"/>
<circle cx="121.26" cy="562.16" r="1.7" fill="#000" fill-opacity="0.45"/>
<circle cx="121.26" cy="569.61" r="1.7" fill="#000" fill-opacity="0.45"/>
<circle cx="121.26" cy="584.5" r="1.7" fill="#000" fill-opacity="0.55"/>
<circle cx="121.26" cy="590.08" r="1.7" fill="#000" fill-opacity="0.55"/>
<circle cx="121.26" cy="596.91" r="1.7" fill="#000" fill-opacity="0.55"/>
<circle cx="121.26" cy="601.62" r="1.7" fill="#000" fill-opacity="0.55"/>
<path d="M140.24 561.54V591.07" stroke="#000" stroke-opacity="0.7" stroke-width="1" fill="none"/>
<path d="M135.34 561.54H145.14" stroke="#000" stroke-opacity="0.7" stroke-width="1" fill="none"/>
<path d="M135.34 591.07H145.14" stroke="#000" stroke-opacity="0.75" stroke-width="1" fill="none"/>
<circle cx="140.24" cy="546.03" r="1.7" fill="#000" fill-opacity="0.45"/>
<circle cx="140.24" cy="556.82" r="1.7" fill="#000" fill-opacity="0.45"/>
<circle cx="140.24" cy="564.27" r="1.7" fill="#000" fill-opacity="0.45"/>
<circle cx="140.24" cy="583.63" r="1.7" fill="#000" fill-opacity="0.55"/>
<circle cx="140.24" cy="588.22" r="1.7" fill="#000" fill-opacity="0.55"/>
<circle cx="140.24" cy="594.18" r="1.7" fill="#000" fill-opacity="0.55"/>
<circle cx="140.24" cy="600.88" r="1.7" fill="#000" fill-opacity="0.55"/>
<path d="M149.19 565.88V592.19" stroke="#000" stroke-opacity="0.7" stroke-width="1" fill="none"/>
<path d="M144.29 565.88H154.09" stroke="#000" stroke-opacity="0.7" stroke-width="1" fill="none"/>
<path d="M144.29 592.19H154.09" stroke="#000" stroke-opacity="0.75" stroke-width="1" fill="none"/>
<circle cx="149.19" cy="545.41" r="1.7" fill="#000" fill-opacity="0.45"/>
<circle cx="149.19" cy="565.51" r="1.7" fill="#000" fill-opacity="0.45"/>
<circle cx="149.19" cy="584.5" r="1.7" fill="#000" fill-opacity="0.55"/>
<circle cx="149.19" cy="588.84" r="1.7" fill="#000" fill-opacity="0.55"/>
<circle cx="149.19" cy="595.04" r="1.7" fill="#000" fill-opacity="0.55"/>
<circle cx="149.19" cy="602.24" r="1.7" fill="#000" fill-opacity="0.55"/>
<path d="M168.17 562.41V590.7" stroke="#000" stroke-opacity="0.7" stroke-width="1" fill="none"/>
<path d="M163.27 562.41H173.07" stroke="#000" stroke-opacity="0.7" stroke-width="1" fill="none"/>
<path d="M163.27 590.7H173.07" stroke="#000" stroke-opacity="0.75" stroke-width="1" fill="none"/>
<circle cx="168.17" cy="542.06" r="1.7" fill="#000" fill-opacity="0.45"/>
<circle cx="168.17" cy="557.45" r="1.7" fill="#000" fill-opacity="0.45"/>
<circle cx="168.17" cy="565.26" r="1.7" fill="#000" fill-opacity="0.45"/>
<circle cx="168.17" cy="583.88" r="1.7" fill="#000" fill-opacity="0.55"/>
<circle cx="168.17" cy="587.23" r="1.7" fill="#000" fill-opacity="0.55"/>
<circle cx="168.17" cy="596.66" r="1.7" fill="#000" fill-opacity="0.55"/>
<path d="M177.12 567.37V590.7" stroke="#000" stroke-opacity="0.7" stroke-width="1" fill="none"/>
<path d="M172.22 567.37H182.02" stroke="#000" stroke-opacity="0.7" stroke-width="1" fill="none"/>
<path d="M172.22 590.7H182.02" stroke="#000" stroke-opacity="0.75" stroke-width="1" fill="none"/>
<circle cx="177.12" cy="544.17" r="1.7" fill="#000" fill-opacity="0.45"/>
<circle cx="177.12" cy="565.88" r="1.7" fill="#000" fill-opacity="0.45"/>
<circle cx="177.12" cy="585.36" r="1.7" fill="#000" fill-opacity="0.55"/>
<circle cx="177.12" cy="590.33" r="1.7" fill="#000" fill-opacity="0.55"/>
<circle cx="177.12" cy="593.8" r="1.7" fill="#000" fill-opacity="0.55"/>
<circle cx="177.12" cy="595.66" r="1.7" fill="#000" fill-opacity="0.55"/>
<path d="M196.1 560.05V590.45" stroke="#000" stroke-opacity="0.7" stroke-width="1" fill="none"/>
<path d="M191.2 560.05H201" stroke="#000" stroke-opacity="0.7" stroke-width="1" fill="none"/>
<path d="M191.2 590.45H201" stroke="#000" stroke-opacity="0.75" stroke-width="1" fill="none"/>
<circle cx="196.1" cy="538.58" r="1.7" fill="#000" fill-opacity="0.45"/>
<circle cx="196.1" cy="548.51" r="1.7" fill="#000" fill-opacity="0.45"/>
<circle cx="196.1" cy="567.5" r="1.7" fill="#000" fill-opacity="0.45"/>
<circle cx="196.1" cy="583.01" r="1.7" fill="#000" fill-opacity="0.55"/>
<circle cx="196.1" cy="586.61" r="1.7" fill="#000" fill-opacity="0.55"/>
<circle cx="196.1" cy="595.04" r="1.7" fill="#000" fill-opacity="0.55"/>
<circle cx="196.1" cy="600.26" r="1.7" fill="#000" fill-opacity="0.55"/>
<path d="M205.05 566.26V592.56" stroke="#000" stroke-opacity="0.7" stroke-width="1" fill="none"/>
<path d="M200.15 566.26H209.95" stroke="#000" stroke-opacity="0.7" stroke-width="1" fill="none"/>
<path d="M200.15 592.56H209.95" stroke="#000" stroke-opacity="0.75" stroke-width="1" fill="none"/>
<circle cx="205.05" cy="543.18" r="1.7" fill="#000" fill-opacity="0.45"/>
<circle cx="205.05" cy="562.78" r="1.7" fill="#000" fill-opacity="0.45"/>
<circle cx="205.05" cy="569.36" r="1.7" fill="#000" fill-opacity="0.45"/>
<circle cx="205.05" cy="585.12" r="1.7" fill="#000" fill-opacity="0.55"/>
<circle cx="205.05" cy="586.61" r="1.7" fill="#000" fill-opacity="0.55"/>
<circle cx="205.05" cy="599.01" r="1.7" fill="#000" fill-opacity="0.55"/>
<circle cx="205.05" cy="604.35" r="1.7" fill="#000" fill-opacity="0.55"/>
<rect x="47.45" y="533.2" width="168.25" height="122.1" fill="none" stroke="#7f7f7f" stroke-width="1.1"/>
<path d="M44.85 655.2H47.45" stroke="#555" stroke-width="0.9"/>
<text x="41.05" y="658.4" font-size="9.0" text-anchor="end" fill="#333" textLength="5.55" lengthAdjust="spacingAndGlyphs">0</text>
<path d="M44.85 633.9H47.45" stroke="#555" stroke-width="0.9"/>
<text x="41.05" y="637.1" font-size="9.0" text-anchor="end" fill="#333" textLength="16.65" lengthAdjust="spacingAndGlyphs">100</text>
<path d="M44.85 612.6H47.45" stroke="#555" stroke-width="0.9"/>
<text x="41.05" y="615.8" font-size="9.0" text-anchor="end" fill="#333" textLength="16.65" lengthAdjust="spacingAndGlyphs">200</text>
<path d="M44.85 591.3H47.45" stroke="#555" stroke-width="0.9"/>
<text x="41.05" y="594.5" font-size="9.0" text-anchor="end" fill="#333" textLength="16.65" lengthAdjust="spacingAndGlyphs">300</text>
<path d="M44.85 570H47.45" stroke="#555" stroke-width="0.9"/>
<text x="41.05" y="573.2" font-size="9.0" text-anchor="end" fill="#333" textLength="16.65" lengthAdjust="spacingAndGlyphs">400</text>
<path d="M44.85 548.7H47.45" stroke="#555" stroke-width="0.9"/>
<text x="41.05" y="551.9" font-size="9.0" text-anchor="end" fill="#333" textLength="16.65" lengthAdjust="spacingAndGlyphs">500</text>
<path d="M60.9 655.3V658.5" stroke="#555" stroke-width="0.9"/>
<text x="60.6" y="670" font-size="9.4" text-anchor="middle" fill="#333">I</text>
<path d="M88.83 655.3V658.5" stroke="#555" stroke-width="0.9"/>
<text x="88.53" y="670" font-size="9.4" text-anchor="middle" fill="#333">II</text>
<path d="M116.76 655.3V658.5" stroke="#555" stroke-width="0.9"/>
<text x="116.46" y="670" font-size="9.4" text-anchor="middle" fill="#333">III</text>
<path d="M144.69 655.3V658.5" stroke="#555" stroke-width="0.9"/>
<text x="144.39" y="670" font-size="9.4" text-anchor="middle" fill="#333">IV</text>
<path d="M172.62 655.3V658.5" stroke="#555" stroke-width="0.9"/>
<text x="172.32" y="670" font-size="9.4" text-anchor="middle" fill="#333">V</text>
<path d="M200.55 655.3V658.5" stroke="#555" stroke-width="0.9"/>
<text x="200.25" y="670" font-size="9.4" text-anchor="middle" fill="#333">VI</text>
<text x="126.6" y="527.3" font-size="10.6" text-anchor="middle" fill="#333" textLength="84.4" lengthAdjust="spacingAndGlyphs">West Central Asia</text>
<text x="0.2" y="523.4" font-size="14.5" font-weight="bold" fill="#000">j</text>
<text transform="translate(14.3 594.25) rotate(-90)" x="0" y="0" font-size="10.2" text-anchor="middle" fill="#333"><tspan font-style="italic">P</tspan> (mm yr<tspan font-size="7.2" dy="-4.3">−1</tspan><tspan dy="4.3">)</tspan></text>
<text x="131.57" y="684.6" font-size="10.3" text-anchor="middle" fill="#333" textLength="30" lengthAdjust="spacingAndGlyphs">Period</text>
<rect x="286.7" y="573.95" width="9.6" height="81.35" fill="#ff826c"/>
<rect x="295.7" y="575.19" width="9.15" height="80.11" fill="#edab95"/>
<rect x="314.63" y="570.23" width="9.6" height="85.07" fill="#ff826c"/>
<rect x="323.63" y="574.32" width="9.15" height="80.98" fill="#edab95"/>
<rect x="342.56" y="569.85" width="9.6" height="85.45" fill="#ff826c"/>
<rect x="351.56" y="575.19" width="9.15" height="80.11" fill="#edab95"/>
<rect x="370.49" y="569.36" width="9.6" height="85.94" fill="#ff826c"/>
<rect x="379.49" y="575.19" width="9.15" height="80.11" fill="#edab95"/>
<rect x="398.42" y="568.12" width="9.6" height="87.18" fill="#ff826c"/>
<rect x="407.42" y="575.19" width="9.15" height="80.11" fill="#edab95"/>
<rect x="426.35" y="565.26" width="9.6" height="90.04" fill="#ff826c"/>
<rect x="435.35" y="575.19" width="9.15" height="80.11" fill="#edab95"/>
<path d="M291.25 564.39V584.25" stroke="#000" stroke-opacity="0.7" stroke-width="1" fill="none"/>
<path d="M286.35 564.39H296.15" stroke="#000" stroke-opacity="0.7" stroke-width="1" fill="none"/>
<path d="M286.35 584.25H296.15" stroke="#000" stroke-opacity="0.75" stroke-width="1" fill="none"/>
<circle cx="291.25" cy="549.75" r="1.85" fill="#000" fill-opacity="0.82"/>
<circle cx="291.25" cy="580.53" r="1.85" fill="#000" fill-opacity="0.82"/>
<circle cx="291.25" cy="585.12" r="1.7" fill="#000" fill-opacity="0.55"/>
<circle cx="291.25" cy="588.22" r="1.7" fill="#000" fill-opacity="0.55"/>
<path d="M300.2 564.39V587.23" stroke="#000" stroke-opacity="0.7" stroke-width="1" fill="none"/>
<path d="M295.3 564.39H305.1" stroke="#000" stroke-opacity="0.7" stroke-width="1" fill="none"/>
<path d="M295.3 587.23H305.1" stroke="#000" stroke-opacity="0.75" stroke-width="1" fill="none"/>
<circle cx="300.2" cy="549.13" r="1.7" fill="#000" fill-opacity="0.45"/>
<circle cx="300.2" cy="550.74" r="1.7" fill="#000" fill-opacity="0.45"/>
<circle cx="300.2" cy="576.43" r="1.7" fill="#000" fill-opacity="0.55"/>
<circle cx="300.2" cy="583.26" r="1.7" fill="#000" fill-opacity="0.55"/>
<circle cx="300.2" cy="586.98" r="1.7" fill="#000" fill-opacity="0.55"/>
<circle cx="300.2" cy="594.18" r="1.7" fill="#000" fill-opacity="0.55"/>
<path d="M319.18 561.54V581.39" stroke="#000" stroke-opacity="0.7" stroke-width="1" fill="none"/>
<path d="M314.28 561.54H324.08" stroke="#000" stroke-opacity="0.7" stroke-width="1" fill="none"/>
<path d="M314.28 581.39H324.08" stroke="#000" stroke-opacity="0.75" stroke-width="1" fill="none"/>
<circle cx="319.18" cy="545.04" r="1.7" fill="#000" fill-opacity="0.45"/>
<circle cx="319.18" cy="550.99" r="1.7" fill="#000" fill-opacity="0.45"/>
<circle cx="319.18" cy="572.46" r="1.7" fill="#000" fill-opacity="0.55"/>
<circle cx="319.18" cy="575.81" r="1.7" fill="#000" fill-opacity="0.55"/>
<circle cx="319.18" cy="580.77" r="1.7" fill="#000" fill-opacity="0.55"/>
<circle cx="319.18" cy="583.88" r="1.7" fill="#000" fill-opacity="0.55"/>
<path d="M328.13 564.39V585.49" stroke="#000" stroke-opacity="0.7" stroke-width="1" fill="none"/>
<path d="M323.23 564.39H333.03" stroke="#000" stroke-opacity="0.7" stroke-width="1" fill="none"/>
<path d="M323.23 585.49H333.03" stroke="#000" stroke-opacity="0.75" stroke-width="1" fill="none"/>
<circle cx="328.13" cy="546.03" r="1.7" fill="#000" fill-opacity="0.45"/>
<circle cx="328.13" cy="551.24" r="1.7" fill="#000" fill-opacity="0.45"/>
<circle cx="328.13" cy="579.53" r="1.7" fill="#000" fill-opacity="0.55"/>
<circle cx="328.13" cy="582.01" r="1.7" fill="#000" fill-opacity="0.55"/>
<circle cx="328.13" cy="585.49" r="1.7" fill="#000" fill-opacity="0.55"/>
<circle cx="328.13" cy="593.8" r="1.7" fill="#000" fill-opacity="0.55"/>
<path d="M347.11 560.3V580.4" stroke="#000" stroke-opacity="0.7" stroke-width="1" fill="none"/>
<path d="M342.21 560.3H352.01" stroke="#000" stroke-opacity="0.7" stroke-width="1" fill="none"/>
<path d="M342.21 580.4H352.01" stroke="#000" stroke-opacity="0.75" stroke-width="1" fill="none"/>
<circle cx="347.11" cy="546.65" r="1.7" fill="#000" fill-opacity="0.45"/>
<circle cx="347.11" cy="547.39" r="1.7" fill="#000" fill-opacity="0.45"/>
<circle cx="347.11" cy="573.33" r="1.7" fill="#000" fill-opacity="0.55"/>
<circle cx="347.11" cy="576.68" r="1.7" fill="#000" fill-opacity="0.55"/>
<circle cx="347.11" cy="580.77" r="1.7" fill="#000" fill-opacity="0.55"/>
<circle cx="347.11" cy="583.26" r="1.7" fill="#000" fill-opacity="0.55"/>
<path d="M356.06 565.26V585.49" stroke="#000" stroke-opacity="0.7" stroke-width="1" fill="none"/>
<path d="M351.16 565.26H360.96" stroke="#000" stroke-opacity="0.7" stroke-width="1" fill="none"/>
<path d="M351.16 585.49H360.96" stroke="#000" stroke-opacity="0.75" stroke-width="1" fill="none"/>
<circle cx="356.06" cy="549.13" r="1.7" fill="#000" fill-opacity="0.45"/>
<circle cx="356.06" cy="549.5" r="1.7" fill="#000" fill-opacity="0.45"/>
<circle cx="356.06" cy="580.53" r="1.7" fill="#000" fill-opacity="0.55"/>
<circle cx="356.06" cy="585.74" r="1.7" fill="#000" fill-opacity="0.55"/>
<circle cx="356.06" cy="595.04" r="1.7" fill="#000" fill-opacity="0.55"/>
<path d="M375.04 560.3V580.4" stroke="#000" stroke-opacity="0.7" stroke-width="1" fill="none"/>
<path d="M370.14 560.3H379.94" stroke="#000" stroke-opacity="0.7" stroke-width="1" fill="none"/>
<path d="M370.14 580.4H379.94" stroke="#000" stroke-opacity="0.75" stroke-width="1" fill="none"/>
<circle cx="375.04" cy="544.54" r="1.7" fill="#000" fill-opacity="0.45"/>
<circle cx="375.04" cy="548.51" r="1.7" fill="#000" fill-opacity="0.45"/>
<circle cx="375.04" cy="572.46" r="1.7" fill="#000" fill-opacity="0.55"/>
<circle cx="375.04" cy="577.3" r="1.7" fill="#000" fill-opacity="0.55"/>
<circle cx="375.04" cy="582.01" r="1.7" fill="#000" fill-opacity="0.55"/>
<path d="M383.99 565.51V585.12" stroke="#000" stroke-opacity="0.7" stroke-width="1" fill="none"/>
<path d="M379.09 565.51H388.89" stroke="#000" stroke-opacity="0.7" stroke-width="1" fill="none"/>
<path d="M379.09 585.12H388.89" stroke="#000" stroke-opacity="0.75" stroke-width="1" fill="none"/>
<circle cx="383.99" cy="548.51" r="1.7" fill="#000" fill-opacity="0.45"/>
<circle cx="383.99" cy="551.61" r="1.7" fill="#000" fill-opacity="0.45"/>
<circle cx="383.99" cy="579.53" r="1.7" fill="#000" fill-opacity="0.55"/>
<circle cx="383.99" cy="582.01" r="1.7" fill="#000" fill-opacity="0.55"/>
<circle cx="383.99" cy="584.25" r="1.7" fill="#000" fill-opacity="0.55"/>
<circle cx="383.99" cy="593.8" r="1.7" fill="#000" fill-opacity="0.55"/>
<path d="M402.97 557.82V579.78" stroke="#000" stroke-opacity="0.7" stroke-width="1" fill="none"/>
<path d="M398.07 557.82H407.87" stroke="#000" stroke-opacity="0.7" stroke-width="1" fill="none"/>
<path d="M398.07 579.78H407.87" stroke="#000" stroke-opacity="0.75" stroke-width="1" fill="none"/>
<circle cx="402.97" cy="542.06" r="1.7" fill="#000" fill-opacity="0.45"/>
<circle cx="402.97" cy="548.51" r="1.7" fill="#000" fill-opacity="0.45"/>
<circle cx="402.97" cy="570.85" r="1.7" fill="#000" fill-opacity="0.55"/>
<circle cx="402.97" cy="575.81" r="1.7" fill="#000" fill-opacity="0.55"/>
<circle cx="402.97" cy="579.53" r="1.7" fill="#000" fill-opacity="0.55"/>
<circle cx="402.97" cy="583.26" r="1.7" fill="#000" fill-opacity="0.55"/>
<path d="M411.92 564.89V585.49" stroke="#000" stroke-opacity="0.7" stroke-width="1" fill="none"/>
<path d="M407.02 564.89H416.82" stroke="#000" stroke-opacity="0.7" stroke-width="1" fill="none"/>
<path d="M407.02 585.49H416.82" stroke="#000" stroke-opacity="0.75" stroke-width="1" fill="none"/>
<circle cx="411.92" cy="547.52" r="1.7" fill="#000" fill-opacity="0.45"/>
<circle cx="411.92" cy="553.23" r="1.7" fill="#000" fill-opacity="0.45"/>
<circle cx="411.92" cy="576.68" r="1.7" fill="#000" fill-opacity="0.55"/>
<circle cx="411.92" cy="580.77" r="1.7" fill="#000" fill-opacity="0.55"/>
<circle cx="411.92" cy="585.74" r="1.7" fill="#000" fill-opacity="0.55"/>
<circle cx="411.92" cy="594.05" r="1.7" fill="#000" fill-opacity="0.55"/>
<path d="M430.9 555.34V577.3" stroke="#000" stroke-opacity="0.7" stroke-width="1" fill="none"/>
<path d="M426 555.34H435.8" stroke="#000" stroke-opacity="0.7" stroke-width="1" fill="none"/>
<path d="M426 577.3H435.8" stroke="#000" stroke-opacity="0.75" stroke-width="1" fill="none"/>
<circle cx="430.9" cy="538.58" r="1.7" fill="#000" fill-opacity="0.45"/>
<circle cx="430.9" cy="547.52" r="1.7" fill="#000" fill-opacity="0.45"/>
<circle cx="430.9" cy="565.88" r="1.7" fill="#000" fill-opacity="0.45"/>
<circle cx="430.9" cy="570.85" r="1.7" fill="#000" fill-opacity="0.55"/>
<circle cx="430.9" cy="574.82" r="1.7" fill="#000" fill-opacity="0.55"/>
<circle cx="430.9" cy="580.15" r="1.7" fill="#000" fill-opacity="0.55"/>
<path d="M439.85 566.5V586.36" stroke="#000" stroke-opacity="0.7" stroke-width="1" fill="none"/>
<path d="M434.95 566.5H444.75" stroke="#000" stroke-opacity="0.7" stroke-width="1" fill="none"/>
<path d="M434.95 586.36H444.75" stroke="#000" stroke-opacity="0.75" stroke-width="1" fill="none"/>
<circle cx="439.85" cy="545.16" r="1.7" fill="#000" fill-opacity="0.45"/>
<circle cx="439.85" cy="554.47" r="1.7" fill="#000" fill-opacity="0.45"/>
<circle cx="439.85" cy="578.54" r="1.7" fill="#000" fill-opacity="0.55"/>
<circle cx="439.85" cy="583.5" r="1.7" fill="#000" fill-opacity="0.55"/>
<circle cx="439.85" cy="586.98" r="1.7" fill="#000" fill-opacity="0.55"/>
<circle cx="439.85" cy="591.94" r="1.7" fill="#000" fill-opacity="0.55"/>
<rect x="282.45" y="533.2" width="167.65" height="122.1" fill="none" stroke="#7f7f7f" stroke-width="1.1"/>
<path d="M279.85 655.3H282.45" stroke="#555" stroke-width="0.9"/>
<text x="276.05" y="658.5" font-size="9.0" text-anchor="end" fill="#333" textLength="5.55" lengthAdjust="spacingAndGlyphs">0</text>
<path d="M279.85 629.3H282.45" stroke="#555" stroke-width="0.9"/>
<text x="276.05" y="632.5" font-size="9.0" text-anchor="end" fill="#333" textLength="16.65" lengthAdjust="spacingAndGlyphs">100</text>
<path d="M279.85 603.3H282.45" stroke="#555" stroke-width="0.9"/>
<text x="276.05" y="606.5" font-size="9.0" text-anchor="end" fill="#333" textLength="16.65" lengthAdjust="spacingAndGlyphs">200</text>
<path d="M279.85 577.3H282.45" stroke="#555" stroke-width="0.9"/>
<text x="276.05" y="580.5" font-size="9.0" text-anchor="end" fill="#333" textLength="16.65" lengthAdjust="spacingAndGlyphs">300</text>
<path d="M279.85 551.3H282.45" stroke="#555" stroke-width="0.9"/>
<text x="276.05" y="554.5" font-size="9.0" text-anchor="end" fill="#333" textLength="16.65" lengthAdjust="spacingAndGlyphs">400</text>
<path d="M295.7 655.3V658.5" stroke="#555" stroke-width="0.9"/>
<text x="295.4" y="670" font-size="9.4" text-anchor="middle" fill="#333">I</text>
<path d="M323.63 655.3V658.5" stroke="#555" stroke-width="0.9"/>
<text x="323.33" y="670" font-size="9.4" text-anchor="middle" fill="#333">II</text>
<path d="M351.56 655.3V658.5" stroke="#555" stroke-width="0.9"/>
<text x="351.26" y="670" font-size="9.4" text-anchor="middle" fill="#333">III</text>
<path d="M379.49 655.3V658.5" stroke="#555" stroke-width="0.9"/>
<text x="379.19" y="670" font-size="9.4" text-anchor="middle" fill="#333">IV</text>
<path d="M407.42 655.3V658.5" stroke="#555" stroke-width="0.9"/>
<text x="407.12" y="670" font-size="9.4" text-anchor="middle" fill="#333">V</text>
<path d="M435.35 655.3V658.5" stroke="#555" stroke-width="0.9"/>
<text x="435.05" y="670" font-size="9.4" text-anchor="middle" fill="#333">VI</text>
<text x="361.9" y="527.3" font-size="10.6" text-anchor="middle" fill="#333" textLength="84.4" lengthAdjust="spacingAndGlyphs">West Central Asia</text>
<text x="241.4" y="523.4" font-size="14.5" font-weight="bold" fill="#000">k</text>
<text transform="translate(250.8 594.25) rotate(-90)" x="0" y="0" font-size="10.2" text-anchor="middle" fill="#333">ET (mm yr<tspan font-size="7.2" dy="-4.3">−1</tspan><tspan dy="4.3">)</tspan></text>
<text x="366.27" y="684.6" font-size="10.3" text-anchor="middle" fill="#333" textLength="30" lengthAdjust="spacingAndGlyphs">Period</text>
<rect x="521.1" y="615.36" width="9.6" height="32.64" fill="#33ff33"/>
<rect x="530.1" y="616.27" width="9.15" height="31.73" fill="#a6f1a6"/>
<rect x="549.03" y="612.29" width="9.6" height="35.71" fill="#33ff33"/>
<rect x="558.03" y="614.46" width="9.15" height="33.54" fill="#a6f1a6"/>
<rect x="576.96" y="613.19" width="9.6" height="34.81" fill="#33ff33"/>
<rect x="585.96" y="615.73" width="9.15" height="32.27" fill="#a6f1a6"/>
<rect x="604.89" y="612.29" width="9.6" height="35.71" fill="#33ff33"/>
<rect x="613.89" y="614.1" width="9.15" height="33.9" fill="#a6f1a6"/>
<rect x="632.82" y="611.38" width="9.6" height="36.62" fill="#33ff33"/>
<rect x="641.82" y="614.1" width="9.15" height="33.9" fill="#a6f1a6"/>
<rect x="660.75" y="609.39" width="9.6" height="38.61" fill="#33ff33"/>
<rect x="669.75" y="614.46" width="9.15" height="33.54" fill="#a6f1a6"/>
<path d="M525.65 596.36V615.36" stroke="#000" stroke-opacity="0.28" stroke-width="1.4" fill="none"/>
<path d="M525.65 615.36V640.16" stroke="#000" stroke-opacity="0.7" stroke-width="1" fill="none"/>
<path d="M520.75 596.36H530.55" stroke="#000" stroke-opacity="0.28" stroke-width="1.4" fill="none"/>
<path d="M520.75 640.16H530.55" stroke="#000" stroke-opacity="0.75" stroke-width="1" fill="none"/>
<circle cx="525.65" cy="559.25" r="1.7" fill="#000" fill-opacity="0.45"/>
<circle cx="525.65" cy="572.46" r="1.7" fill="#000" fill-opacity="0.45"/>
<circle cx="525.65" cy="615.36" r="1.7" fill="#000" fill-opacity="0.45"/>
<circle cx="525.65" cy="631.66" r="1.7" fill="#000" fill-opacity="0.55"/>
<circle cx="525.65" cy="639.44" r="1.7" fill="#000" fill-opacity="0.55"/>
<circle cx="525.65" cy="644.33" r="1.7" fill="#000" fill-opacity="0.55"/>
<path d="M534.6 597.26V640.71" stroke="#000" stroke-opacity="0.7" stroke-width="1" fill="none"/>
<path d="M529.7 597.26H539.5" stroke="#000" stroke-opacity="0.7" stroke-width="1" fill="none"/>
<path d="M529.7 640.71H539.5" stroke="#000" stroke-opacity="0.75" stroke-width="1" fill="none"/>
<circle cx="534.6" cy="562.51" r="1.7" fill="#000" fill-opacity="0.45"/>
<circle cx="534.6" cy="574.27" r="1.7" fill="#000" fill-opacity="0.45"/>
<circle cx="534.6" cy="617.18" r="1.7" fill="#000" fill-opacity="0.45"/>
<circle cx="534.6" cy="628.94" r="1.7" fill="#000" fill-opacity="0.55"/>
<circle cx="534.6" cy="638.54" r="1.7" fill="#000" fill-opacity="0.55"/>
<circle cx="534.6" cy="644.33" r="1.7" fill="#000" fill-opacity="0.55"/>
<path d="M553.58 589.48V612.29" stroke="#000" stroke-opacity="0.28" stroke-width="1.4" fill="none"/>
<path d="M553.58 612.29V639.44" stroke="#000" stroke-opacity="0.7" stroke-width="1" fill="none"/>
<path d="M548.68 589.48H558.48" stroke="#000" stroke-opacity="0.7" stroke-width="1" fill="none"/>
<path d="M548.68 639.44H558.48" stroke="#000" stroke-opacity="0.75" stroke-width="1" fill="none"/>
<circle cx="553.58" cy="560.7" r="1.85" fill="#000" fill-opacity="0.82"/>
<circle cx="553.58" cy="614.82" r="1.7" fill="#000" fill-opacity="0.55"/>
<circle cx="553.58" cy="626.59" r="1.7" fill="#000" fill-opacity="0.55"/>
<circle cx="553.58" cy="637.45" r="1.7" fill="#000" fill-opacity="0.55"/>
<circle cx="553.58" cy="642.52" r="1.7" fill="#000" fill-opacity="0.55"/>
<path d="M562.53 596V638.54" stroke="#000" stroke-opacity="0.7" stroke-width="1" fill="none"/>
<path d="M557.63 596H567.43" stroke="#000" stroke-opacity="0.28" stroke-width="1.4" fill="none"/>
<path d="M557.63 638.54H567.43" stroke="#000" stroke-opacity="0.75" stroke-width="1" fill="none"/>
<circle cx="562.53" cy="561.06" r="1.7" fill="#000" fill-opacity="0.45"/>
<circle cx="562.53" cy="574.64" r="1.7" fill="#000" fill-opacity="0.45"/>
<circle cx="562.53" cy="616.63" r="1.7" fill="#000" fill-opacity="0.55"/>
<circle cx="562.53" cy="627.13" r="1.7" fill="#000" fill-opacity="0.55"/>
<circle cx="562.53" cy="638.9" r="1.7" fill="#000" fill-opacity="0.55"/>
<circle cx="562.53" cy="641.98" r="1.7" fill="#000" fill-opacity="0.55"/>
<path d="M581.51 593.1V613.19" stroke="#000" stroke-opacity="0.28" stroke-width="1.4" fill="none"/>
<path d="M581.51 613.19V639.44" stroke="#000" stroke-opacity="0.7" stroke-width="1" fill="none"/>
<path d="M576.61 593.1H586.41" stroke="#000" stroke-opacity="0.28" stroke-width="1.4" fill="none"/>
<path d="M576.61 639.44H586.41" stroke="#000" stroke-opacity="0.75" stroke-width="1" fill="none"/>
<circle cx="581.51" cy="556.53" r="1.7" fill="#000" fill-opacity="0.45"/>
<circle cx="581.51" cy="566.85" r="1.7" fill="#000" fill-opacity="0.45"/>
<circle cx="581.51" cy="617.54" r="1.7" fill="#000" fill-opacity="0.55"/>
<circle cx="581.51" cy="628.4" r="1.7" fill="#000" fill-opacity="0.55"/>
<circle cx="581.51" cy="639.44" r="1.7" fill="#000" fill-opacity="0.55"/>
<circle cx="581.51" cy="644.69" r="1.7" fill="#000" fill-opacity="0.55"/>
<path d="M590.46 598.17V640.35" stroke="#000" stroke-opacity="0.7" stroke-width="1" fill="none"/>
<path d="M585.56 598.17H595.36" stroke="#000" stroke-opacity="0.7" stroke-width="1" fill="none"/>
<path d="M585.56 640.35H595.36" stroke="#000" stroke-opacity="0.75" stroke-width="1" fill="none"/>
<circle cx="590.46" cy="561.96" r="1.7" fill="#000" fill-opacity="0.45"/>
<circle cx="590.46" cy="578.62" r="1.7" fill="#000" fill-opacity="0.45"/>
<circle cx="590.46" cy="618.08" r="1.7" fill="#000" fill-opacity="0.55"/>
<circle cx="590.46" cy="625.32" r="1.7" fill="#000" fill-opacity="0.55"/>
<circle cx="590.46" cy="639.8" r="1.7" fill="#000" fill-opacity="0.55"/>
<circle cx="590.46" cy="645.23" r="1.7" fill="#000" fill-opacity="0.55"/>
<path d="M609.44 591.47V639.44" stroke="#000" stroke-opacity="0.7" stroke-width="1" fill="none"/>
<path d="M604.54 591.47H614.34" stroke="#000" stroke-opacity="0.7" stroke-width="1" fill="none"/>
<path d="M604.54 639.44H614.34" stroke="#000" stroke-opacity="0.75" stroke-width="1" fill="none"/>
<circle cx="609.44" cy="554.18" r="1.7" fill="#000" fill-opacity="0.45"/>
<circle cx="609.44" cy="564.14" r="1.7" fill="#000" fill-opacity="0.45"/>
<circle cx="609.44" cy="616.27" r="1.7" fill="#000" fill-opacity="0.55"/>
<circle cx="609.44" cy="626.77" r="1.7" fill="#000" fill-opacity="0.55"/>
<circle cx="609.44" cy="637.99" r="1.7" fill="#000" fill-opacity="0.55"/>
<circle cx="609.44" cy="641.07" r="1.7" fill="#000" fill-opacity="0.55"/>
<circle cx="609.44" cy="645.23" r="1.7" fill="#000" fill-opacity="0.55"/>
<path d="M618.39 597.26V639.44" stroke="#000" stroke-opacity="0.7" stroke-width="1" fill="none"/>
<path d="M613.49 597.26H623.29" stroke="#000" stroke-opacity="0.7" stroke-width="1" fill="none"/>
<path d="M613.49 639.44H623.29" stroke="#000" stroke-opacity="0.75" stroke-width="1" fill="none"/>
<circle cx="618.39" cy="558.71" r="1.7" fill="#000" fill-opacity="0.45"/>
<circle cx="618.39" cy="574.27" r="1.7" fill="#000" fill-opacity="0.45"/>
<circle cx="618.39" cy="619.53" r="1.7" fill="#000" fill-opacity="0.55"/>
<circle cx="618.39" cy="625.32" r="1.7" fill="#000" fill-opacity="0.55"/>
<circle cx="618.39" cy="639.44" r="1.7" fill="#000" fill-opacity="0.55"/>
<circle cx="618.39" cy="643.06" r="1.7" fill="#000" fill-opacity="0.55"/>
<path d="M637.37 589.66V639.44" stroke="#000" stroke-opacity="0.7" stroke-width="1" fill="none"/>
<path d="M632.47 589.66H642.27" stroke="#000" stroke-opacity="0.7" stroke-width="1" fill="none"/>
<path d="M632.47 639.44H642.27" stroke="#000" stroke-opacity="0.75" stroke-width="1" fill="none"/>
<circle cx="637.37" cy="545.31" r="1.7" fill="#000" fill-opacity="0.45"/>
<circle cx="637.37" cy="563.41" r="1.7" fill="#000" fill-opacity="0.45"/>
<circle cx="637.37" cy="613.19" r="1.7" fill="#000" fill-opacity="0.55"/>
<circle cx="637.37" cy="627.49" r="1.7" fill="#000" fill-opacity="0.55"/>
<circle cx="637.37" cy="636.18" r="1.7" fill="#000" fill-opacity="0.55"/>
<circle cx="637.37" cy="642.52" r="1.7" fill="#000" fill-opacity="0.55"/>
<circle cx="637.37" cy="649.4" r="1.7" fill="#000" fill-opacity="0.55"/>
<path d="M646.32 597.81V638.35" stroke="#000" stroke-opacity="0.7" stroke-width="1" fill="none"/>
<path d="M641.42 597.81H651.22" stroke="#000" stroke-opacity="0.7" stroke-width="1" fill="none"/>
<path d="M641.42 638.35H651.22" stroke="#000" stroke-opacity="0.75" stroke-width="1" fill="none"/>
<circle cx="646.32" cy="557.98" r="1.7" fill="#000" fill-opacity="0.45"/>
<circle cx="646.32" cy="571.92" r="1.7" fill="#000" fill-opacity="0.45"/>
<circle cx="646.32" cy="619.35" r="1.7" fill="#000" fill-opacity="0.55"/>
<circle cx="646.32" cy="625.86" r="1.7" fill="#000" fill-opacity="0.55"/>
<circle cx="646.32" cy="637.09" r="1.7" fill="#000" fill-opacity="0.55"/>
<circle cx="646.32" cy="641.61" r="1.7" fill="#000" fill-opacity="0.55"/>
<circle cx="646.32" cy="643.42" r="1.7" fill="#000" fill-opacity="0.55"/>
<path d="M665.3 585.86V639.44" stroke="#000" stroke-opacity="0.7" stroke-width="1" fill="none"/>
<path d="M660.4 585.86H670.2" stroke="#000" stroke-opacity="0.7" stroke-width="1" fill="none"/>
<path d="M660.4 639.44H670.2" stroke="#000" stroke-opacity="0.75" stroke-width="1" fill="none"/>
<circle cx="665.3" cy="538.43" r="1.7" fill="#000" fill-opacity="0.45"/>
<circle cx="665.3" cy="555.81" r="1.7" fill="#000" fill-opacity="0.45"/>
<circle cx="665.3" cy="618.08" r="1.7" fill="#000" fill-opacity="0.55"/>
<circle cx="665.3" cy="628.58" r="1.7" fill="#000" fill-opacity="0.55"/>
<circle cx="665.3" cy="636.18" r="1.7" fill="#000" fill-opacity="0.55"/>
<circle cx="665.3" cy="642.88" r="1.7" fill="#000" fill-opacity="0.55"/>
<circle cx="665.3" cy="649.76" r="1.7" fill="#000" fill-opacity="0.55"/>
<path d="M674.25 597.26V638.35" stroke="#000" stroke-opacity="0.7" stroke-width="1" fill="none"/>
<path d="M669.35 597.26H679.15" stroke="#000" stroke-opacity="0.7" stroke-width="1" fill="none"/>
<path d="M669.35 638.35H679.15" stroke="#000" stroke-opacity="0.75" stroke-width="1" fill="none"/>
<circle cx="674.25" cy="558.89" r="1.7" fill="#000" fill-opacity="0.45"/>
<circle cx="674.25" cy="571.01" r="1.7" fill="#000" fill-opacity="0.45"/>
<circle cx="674.25" cy="621.7" r="1.7" fill="#000" fill-opacity="0.55"/>
<circle cx="674.25" cy="625.32" r="1.7" fill="#000" fill-opacity="0.55"/>
<circle cx="674.25" cy="637.99" r="1.7" fill="#000" fill-opacity="0.55"/>
<circle cx="674.25" cy="646.68" r="1.7" fill="#000" fill-opacity="0.55"/>
<rect x="517.35" y="533.2" width="167.15" height="122.1" fill="none" stroke="#7f7f7f" stroke-width="1.1"/>
<path d="M514.75 648H517.35" stroke="#555" stroke-width="0.9"/>
<text x="510.95" y="651.2" font-size="9.0" text-anchor="end" fill="#333" textLength="5.55" lengthAdjust="spacingAndGlyphs">0</text>
<path d="M514.75 628.48H517.35" stroke="#555" stroke-width="0.9"/>
<text x="510.95" y="631.68" font-size="9.0" text-anchor="end" fill="#333" textLength="11.1" lengthAdjust="spacingAndGlyphs">50</text>
<path d="M514.75 608.96H517.35" stroke="#555" stroke-width="0.9"/>
<text x="510.95" y="612.16" font-size="9.0" text-anchor="end" fill="#333" textLength="16.65" lengthAdjust="spacingAndGlyphs">100</text>
<path d="M514.75 589.44H517.35" stroke="#555" stroke-width="0.9"/>
<text x="510.95" y="592.64" font-size="9.0" text-anchor="end" fill="#333" textLength="16.65" lengthAdjust="spacingAndGlyphs">150</text>
<path d="M514.75 569.92H517.35" stroke="#555" stroke-width="0.9"/>
<text x="510.95" y="573.12" font-size="9.0" text-anchor="end" fill="#333" textLength="16.65" lengthAdjust="spacingAndGlyphs">200</text>
<path d="M514.75 550.4H517.35" stroke="#555" stroke-width="0.9"/>
<text x="510.95" y="553.6" font-size="9.0" text-anchor="end" fill="#333" textLength="16.65" lengthAdjust="spacingAndGlyphs">250</text>
<path d="M530.1 655.3V658.5" stroke="#555" stroke-width="0.9"/>
<text x="529.8" y="670" font-size="9.4" text-anchor="middle" fill="#333">I</text>
<path d="M558.03 655.3V658.5" stroke="#555" stroke-width="0.9"/>
<text x="557.73" y="670" font-size="9.4" text-anchor="middle" fill="#333">II</text>
<path d="M585.96 655.3V658.5" stroke="#555" stroke-width="0.9"/>
<text x="585.66" y="670" font-size="9.4" text-anchor="middle" fill="#333">III</text>
<path d="M613.89 655.3V658.5" stroke="#555" stroke-width="0.9"/>
<text x="613.59" y="670" font-size="9.4" text-anchor="middle" fill="#333">IV</text>
<path d="M641.82 655.3V658.5" stroke="#555" stroke-width="0.9"/>
<text x="641.52" y="670" font-size="9.4" text-anchor="middle" fill="#333">V</text>
<path d="M669.75 655.3V658.5" stroke="#555" stroke-width="0.9"/>
<text x="669.45" y="670" font-size="9.4" text-anchor="middle" fill="#333">VI</text>
<text x="603.6" y="527.3" font-size="10.6" text-anchor="middle" fill="#333" textLength="84.4" lengthAdjust="spacingAndGlyphs">West Central Asia</text>
<path d="M471.1 512.3H473.9V520.7Q475.3 521 475.3 522.3V523.6H473.2Q471.1 523.6 471.1 521.6Z" fill="#000"/>
<text transform="translate(485.9 594.25) rotate(-90)" x="0" y="0" font-size="10.2" text-anchor="middle" fill="#333"><tspan font-style="italic">R</tspan> (mm yr<tspan font-size="7.2" dy="-4.3">−1</tspan><tspan dy="4.3">)</tspan></text>
<text x="600.92" y="684.6" font-size="10.3" text-anchor="middle" fill="#333" textLength="30" lengthAdjust="spacingAndGlyphs">Period</text>
<rect x="136.4" y="110.4" width="63.7" height="26.4" fill="#fff" fill-opacity="0.8" rx="1"/>
<rect x="139.9" y="114.7" width="17.0" height="5.7" fill="#4ba6ff"/>
<text x="161.5" y="120.3" font-size="8.3" fill="#333" textLength="32.5" lengthAdjust="spacingAndGlyphs"><tspan font-style="italic">P</tspan> tranirr</text>
<rect x="139.9" y="126.9" width="17.0" height="5.7" fill="#33ffff"/>
<text x="161.5" y="132.3" font-size="8.3" fill="#333" textLength="34.5" lengthAdjust="spacingAndGlyphs"><tspan font-style="italic">P</tspan> 1901irr</text>
<rect x="365.9" y="110.4" width="67" height="26.4" fill="#fff" fill-opacity="0.8" rx="1"/>
<rect x="369.2" y="114.7" width="17.0" height="5.7" fill="#ff826c"/>
<text x="390.8" y="120.3" font-size="8.3" fill="#333" textLength="37.2" lengthAdjust="spacingAndGlyphs">ET tranirr</text>
<rect x="369.2" y="126.9" width="17.0" height="5.7" fill="#edab95"/>
<text x="390.8" y="132.3" font-size="8.3" fill="#333" textLength="38.7" lengthAdjust="spacingAndGlyphs">ET 1901irr</text>
<rect x="604.6" y="110.4" width="64" height="26.4" fill="#fff" fill-opacity="0.8" rx="1"/>
<rect x="608.1" y="114.7" width="17.0" height="5.7" fill="#33ff33"/>
<text x="629.7" y="120.3" font-size="8.3" fill="#333" textLength="32" lengthAdjust="spacingAndGlyphs"><tspan font-style="italic">R</tspan> tranirr</text>
<rect x="608.1" y="126.9" width="17.0" height="5.7" fill="#a6f1a6"/>
<text x="629.7" y="132.3" font-size="8.3" fill="#333" textLength="33.7" lengthAdjust="spacingAndGlyphs"><tspan font-style="italic">R</tspan> 1901irr</text>
</svg></body></html>
